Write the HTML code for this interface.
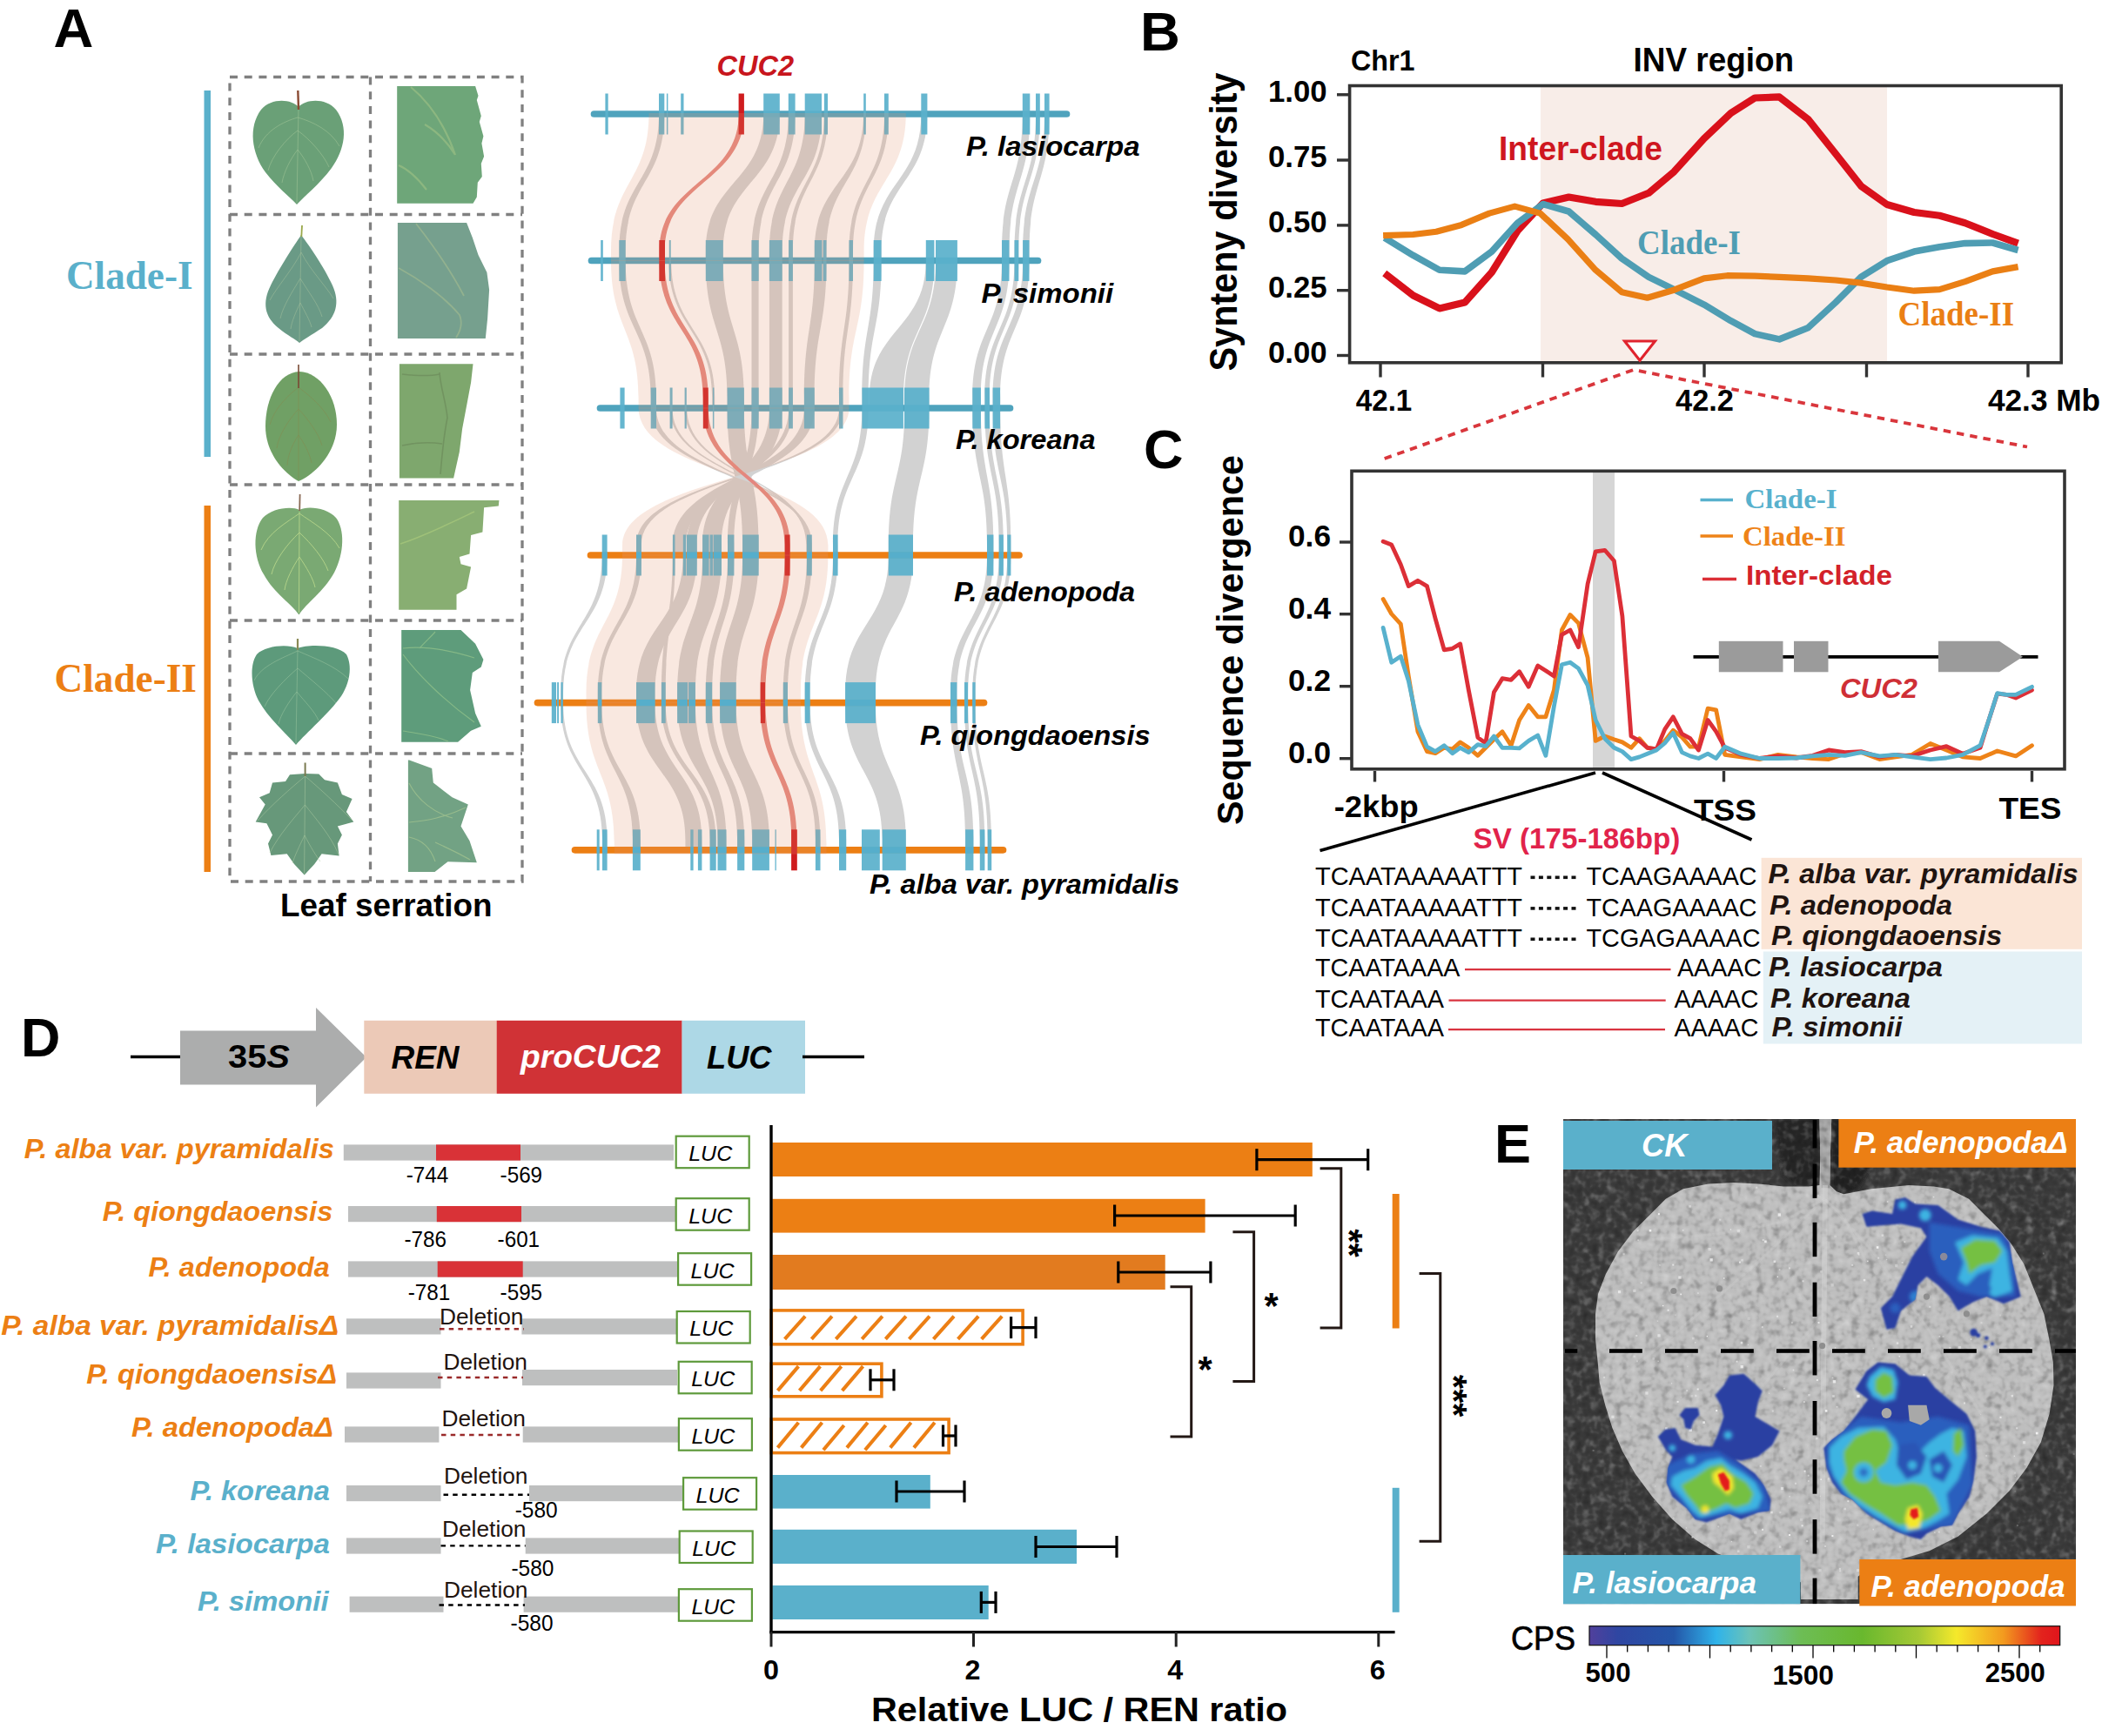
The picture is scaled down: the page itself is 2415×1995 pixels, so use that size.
<!DOCTYPE html>
<html><head><meta charset="utf-8"><title>Figure</title>
<style>
html,body{margin:0;padding:0;background:#fff;}
body{width:2415px;height:1995px;overflow:hidden;font-family:"Liberation Sans",sans-serif;}
svg{display:block;}
</style></head><body>
<svg width="2415" height="1995" viewBox="0 0 2415 1995">
<rect width="2415" height="1995" fill="#fff"/>
<g id="panelA1">
<text x="61.5" y="54.0" font-family="Liberation Sans" font-size="63.44" font-weight="bold" fill="#000" >A</text>
<text x="76.0" y="332.0" font-family="Liberation Serif" font-size="46.5" font-weight="bold" textLength="145.5" lengthAdjust="spacingAndGlyphs" fill="#5ab0cb" >Clade-I</text>
<text x="62.5" y="794.5" font-family="Liberation Serif" font-size="46.5" font-weight="bold" textLength="163.5" lengthAdjust="spacingAndGlyphs" fill="#ec7f14" >Clade-II</text>
<rect x="234.5" y="104.0" width="7.5" height="421.0" fill="#5ab0cb" />
<rect x="234.5" y="581.0" width="7.5" height="421.0" fill="#ec7f14" />
<g stroke-linejoin="round">
<path d="M343,123 C335,114 312,112 300,126 C285,146 289,176 305,198 C318,215 332,225 341,235 C350,225 366,213 381,193 C396,172 401,146 386,126 C374,112 351,114 343,123Z" fill="#6aa077"/>
<path d="M343,124 L341,233 M342,135 C325,140 305,150 297,170 M342,135 C360,140 380,150 390,168 M342,150 C328,160 312,180 308,196 M342,150 C356,160 372,178 378,192 M342,172 C334,182 326,198 324,210 M342,172 C350,182 358,196 360,208" stroke="#a5c79a" stroke-width="0.7" fill="none" opacity="0.75"/>
<line x1="342.3" y1="104.0" x2="343.0" y2="126.0" stroke="#8a4a32" stroke-width="2.4" />
<path d="M346,270 C338,282 322,306 311,328 C301,348 304,364 320,377 C331,386 340,390 344,394 C349,390 358,385 370,377 C386,364 391,348 382,328 C372,306 355,282 346,270Z" fill="#6a9a86"/>
<path d="M346,270 L344,392 M346,290 C336,310 318,330 310,345 M346,290 C356,310 374,328 383,343 M345,320 C336,335 325,352 322,366 M345,320 C354,335 366,350 370,364 M345,348 C340,358 335,370 334,378 M345,348 C350,358 356,368 358,376" stroke="#a3bf9c" stroke-width="0.7" fill="none" opacity="0.75"/>
<line x1="347.0" y1="259.0" x2="346.3" y2="272.0" stroke="#9aa84a" stroke-width="1.8" />
<path d="M344,427 C320,428 305,458 305,490 C305,520 325,543 343,553 C362,545 387,520 387,488 C387,456 368,428 344,427Z" fill="#70a065"/>
<path d="M343,428 L343,551 M343,445 C330,455 315,470 310,488 M343,445 C356,455 372,468 380,485 M343,470 C332,482 320,500 318,515 M343,470 C354,482 366,498 370,512 M343,500 C336,510 330,525 330,535 M343,500 C350,510 356,522 358,532" stroke="#7f8f55" stroke-width="0.7" fill="none"/>
<line x1="343.0" y1="419.0" x2="343.0" y2="446.0" stroke="#7a4a35" stroke-width="1.6" />
<path d="M344,586 C335,581 312,584 302,595 C290,610 291,640 303,660 C315,682 335,694 343.5,706.5 C352,693 372,680 384,658 C396,635 396,608 386,595 C376,583 352,581 344,586Z" fill="#7aa973"/>
<path d="M344,588 L343.5,704 M344,590 C330,600 308,612 300,632 M344,590 C358,600 380,612 390,630 M344,612 C330,625 315,645 312,660 M344,612 C358,625 372,642 377,656 M344,640 C336,652 328,668 327,678 M344,640 C352,652 360,665 362,675" stroke="#b5d58a" stroke-width="0.9" fill="none"/>
<line x1="344.6" y1="568.0" x2="344.2" y2="587.0" stroke="#8a6a55" stroke-width="1.8" />
<path d="M342,745 C330,740 305,742 295,752 C286,765 289,790 297,805 C308,825 328,842 340,856 C352,842 378,820 392,800 C402,785 405,765 398,752 C388,741 355,740 342,745Z" fill="#5d9a7b"/>
<path d="M342,746 L340,854 M342,748 C325,756 300,765 292,782 M342,748 C360,756 385,765 400,780 M342,768 C328,780 310,798 304,812 M342,768 C356,780 376,796 386,808 M341,795 C332,806 322,822 320,832 M341,795 C350,806 362,818 366,828" stroke="#9cc5a0" stroke-width="0.7" fill="none" opacity="0.75"/>
<line x1="342.0" y1="734.0" x2="342.0" y2="747.0" stroke="#8a8a55" stroke-width="2.2" />
<path d="M350.6,889.0 L333.0,890.3 L328.0,898.0 L313.0,899.6 L309.7,911.3 L298.0,916.3 L304.7,924.6 L293.7,944.6 L306.4,946.2 L313.0,959.6 L308.0,969.6 L311.4,982.9 L329.7,981.2 L338.0,992.9 L349.7,1005.5 L361.3,992.9 L369.6,981.2 L389.6,983.5 L387.9,969.6 L392.9,959.6 L387.9,949.6 L406.3,944.6 L397.9,932.9 L404.6,917.9 L392.9,912.9 L387.9,899.6 L373.0,896.3 L366.3,889.6Z" fill="#67987a"/>
<path d="M350.6,890 L349.6,1004 M350.6,892 C335,905 312,925 296,943 M350.6,892 C366,905 388,925 405,943 M350.4,925 C338,940 320,960 310,980 M350.4,925 C362,940 380,960 389,982 M350,960 C344,972 338,985 336,992 M350,960 C356,972 364,985 368,990" stroke="#a8c7a0" stroke-width="0.7" fill="none" opacity="0.75"/>
<line x1="350.6" y1="876.5" x2="350.6" y2="892.0" stroke="#7a7a50" stroke-width="2" />
</g>
<path d="M456.2,98.9 L546.1,98.9 L549.5,109.9 L547.8,114.9 L552.8,133.2 L550.8,139.9 L555.4,156.5 L553.4,164.8 L556.1,179.8 L552.8,188.1 L553.8,203.1 L548.8,209.8 L547.8,226.4 L543.5,233.8 L456.2,233.8Z" fill="#6ea679"/>
<path d="M472,100 C490,115 510,140 523,178 M523,178 C512,160 500,150 488,143 M458,190 C470,195 480,205 490,218" stroke="#a6c487" stroke-width="2.2" fill="none" opacity="0.55"/>
<path d="M456.9,256.1 L536.1,256.1 L542.8,273.1 L549.5,293.0 L559.4,313.0 L562.1,333.0 L560.1,366.3 L557.8,388.9 L456.9,388.9Z" fill="#76a08e"/>
<path d="M478,257 C500,285 520,315 533,340 M458,308 C480,320 510,340 528,362 C532,372 528,382 524,388" stroke="#a9bf8f" stroke-width="1.8" fill="none" opacity="0.55"/>
<path d="M458.9,418.2 L543.5,418.2 L541.1,439.6 L536.1,466.2 L531.1,492.8 L527.8,519.5 L521.1,549.5 L458.9,549.5Z" fill="#7ea76d"/>
<path d="M505,428 C506,445 512,460 514,480 C510,500 508,520 506,545 M462,430 C480,432 495,432 505,430 M462,512 C480,508 495,508 508,510" stroke="#6e8f5c" stroke-width="1.6" fill="none" opacity="0.8"/>
<path d="M458.2,574.9 L573.4,574.9 L572.8,581.6 L556.1,583.3 L554.4,611.6 L541.1,614.9 L539.5,636.6 L527.8,639.9 L529.5,648.2 L541.1,651.5 L536.1,676.5 L524.5,683.2 L524.5,700.8 L458.2,700.8Z" fill="#88ae72"/>
<path d="M460,625 C490,615 520,600 545,588" stroke="#a5c57a" stroke-width="1.6" fill="none" opacity="0.8"/>
<path d="M461.2,724.1 L529.5,724.1 L546.1,739.8 L555.4,758.1 L552.8,766.4 L542.8,773.1 L540.1,793.1 L546.1,819.7 L552.8,834.7 L541.1,839.7 L526.1,852.7 L461.2,852.7Z" fill="#5e9c7b"/>
<path d="M463,745 C490,742 520,748 545,756 M463,752 C480,775 510,805 545,830 M482,745 C488,738 495,732 500,726 M463,840 C480,843 500,845 515,852" stroke="#8fbf8a" stroke-width="1.2" fill="none" opacity="0.8"/>
<path d="M468.9,873.6 L470.2,873.6 L496.2,883.0 L497.8,899.6 L519.5,916.3 L537.8,924.6 L529.5,949.6 L539.5,966.2 L547.8,991.2 L514.5,990.2 L499.5,1001.9 L468.9,1001.9Z" fill="#72a284"/>
<path d="M470,900 C480,920 500,935 520,940 M470,945 C490,943 510,940 535,928 M470,962 C485,965 495,975 500,990 M500,968 C515,975 530,982 540,988" stroke="#9fc08f" stroke-width="1.2" fill="none" opacity="0.8"/>
<rect x="264" y="88.5" width="336" height="924.5" stroke="#808080" stroke-width="3.3" stroke-dasharray="9 7.7" fill="none"/>
<line x1="425.5" y1="88.5" x2="425.5" y2="1013" stroke="#808080" stroke-width="3.3" stroke-dasharray="9 7.7" fill="none"/>
<line x1="264" y1="246.5" x2="600" y2="246.5" stroke="#808080" stroke-width="3.3" stroke-dasharray="9 7.7" fill="none"/>
<line x1="264" y1="407" x2="600" y2="407" stroke="#808080" stroke-width="3.3" stroke-dasharray="9 7.7" fill="none"/>
<line x1="264" y1="557" x2="600" y2="557" stroke="#808080" stroke-width="3.3" stroke-dasharray="9 7.7" fill="none"/>
<line x1="264" y1="713" x2="600" y2="713" stroke="#808080" stroke-width="3.3" stroke-dasharray="9 7.7" fill="none"/>
<line x1="264" y1="866" x2="600" y2="866" stroke="#808080" stroke-width="3.3" stroke-dasharray="9 7.7" fill="none"/>
<text x="322.0" y="1052.5" font-family="Liberation Sans" font-size="36.4" font-weight="bold" textLength="243.5" lengthAdjust="spacingAndGlyphs" fill="#000" >Leaf serration</text>
</g>

<g id="panelA2">
<g>
<path d="M757.0,131.0 L757.0,131.0 C757.0,209.2 711.3,209.2 711.3,287.5 L711.3,299.5 L718.7,299.5 L718.7,287.5 C718.7,209.2 763.3,209.2 763.3,131.0 L763.3,131.0Z" fill="#d2d2d2" />
<path d="M877.2,131.0 L877.2,131.0 C877.2,209.2 810.8,209.2 810.8,287.5 L810.8,299.5 L830.8,299.5 L830.8,287.5 C830.8,209.2 895.7,209.2 895.7,131.0 L895.7,131.0Z" fill="#d2d2d2" />
<path d="M905.8,131.0 L905.8,131.0 C905.8,209.2 863.5,209.2 863.5,287.5 L863.5,299.5 L871.6,299.5 L871.6,287.5 C871.6,209.2 913.5,209.2 913.5,131.0 L913.5,131.0Z" fill="#d2d2d2" />
<path d="M924.7,131.0 L924.7,131.0 C924.7,209.2 883.9,209.2 883.9,287.5 L883.9,299.5 L898.7,299.5 L898.7,287.5 C898.7,209.2 944.0,209.2 944.0,131.0 L944.0,131.0Z" fill="#d2d2d2" />
<path d="M946.9,131.0 L946.9,131.0 C946.9,209.2 906.1,209.2 906.1,287.5 L906.1,299.5 L910.9,299.5 L910.9,287.5 C910.9,209.2 951.0,209.2 951.0,131.0 L951.0,131.0Z" fill="#d2d2d2" />
<path d="M992.0,131.0 L992.0,131.0 C992.0,209.2 935.8,209.2 935.8,287.5 L935.8,299.5 L949.5,299.5 L949.5,287.5 C949.5,209.2 995.0,209.2 995.0,131.0 L995.0,131.0Z" fill="#d2d2d2" />
<path d="M1016.0,131.0 L1016.0,131.0 C1016.0,209.2 975.5,209.2 975.5,287.5 L975.5,299.5 L980.0,299.5 L980.0,287.5 C980.0,209.2 1020.8,209.2 1020.8,131.0 L1020.8,131.0Z" fill="#d2d2d2" />
<path d="M1058.3,131.0 L1058.3,131.0 C1058.3,209.2 1003.7,209.2 1003.7,287.5 L1003.7,299.5 L1012.6,299.5 L1012.6,287.5 C1012.6,209.2 1065.3,209.2 1065.3,131.0 L1065.3,131.0Z" fill="#d2d2d2" />
<path d="M1174.8,131.0 L1174.8,131.0 C1174.8,209.2 1151.0,209.2 1151.0,287.5 L1151.0,299.5 L1159.6,299.5 L1159.6,287.5 C1159.6,209.2 1183.3,209.2 1183.3,131.0 L1183.3,131.0Z" fill="#d2d2d2" />
<path d="M1190.0,131.0 L1190.0,131.0 C1190.0,209.2 1165.5,209.2 1165.5,287.5 L1165.5,299.5 L1170.3,299.5 L1170.3,287.5 C1170.3,209.2 1194.8,209.2 1194.8,131.0 L1194.8,131.0Z" fill="#d2d2d2" />
<path d="M1200.0,131.0 L1200.0,131.0 C1200.0,209.2 1175.1,209.2 1175.1,287.5 L1175.1,299.5 L1182.6,299.5 L1182.6,287.5 C1182.6,209.2 1205.6,209.2 1205.6,131.0 L1205.6,131.0Z" fill="#d2d2d2" />
<path d="M848.7,131.0 L848.7,131.0 C848.7,209.2 757.6,209.2 757.6,287.5 L757.6,299.5 L763.7,299.5 L763.7,287.5 C763.7,209.2 854.8,209.2 854.8,131.0 L854.8,131.0Z" fill="#e4867f" />
<path d="M711.3,299.5 L711.3,299.5 C711.3,378.2 747.7,378.2 747.7,457.0 L747.7,469.0 L754.0,469.0 L754.0,457.0 C754.0,378.2 718.7,378.2 718.7,299.5 L718.7,299.5Z" fill="#d2d2d2" />
<path d="M768.3,299.5 L768.3,299.5 C768.3,378.2 818.2,378.2 818.2,457.0 L818.2,469.0 L821.2,469.0 L821.2,457.0 C821.2,378.2 771.2,378.2 771.2,299.5 L771.2,299.5Z" fill="#d2d2d2" />
<path d="M810.8,299.5 L810.8,299.5 C810.8,378.2 835.6,378.2 835.6,457.0 L835.6,469.0 L854.9,469.0 L854.9,457.0 C854.9,378.2 830.8,378.2 830.8,299.5 L830.8,299.5Z" fill="#d2d2d2" />
<path d="M863.5,299.5 L863.5,299.5 C863.5,378.2 863.5,378.2 863.5,457.0 L863.5,469.0 L871.6,469.0 L871.6,457.0 C871.6,378.2 871.6,378.2 871.6,299.5 L871.6,299.5Z" fill="#d2d2d2" />
<path d="M883.9,299.5 L883.9,299.5 C883.9,378.2 883.9,378.2 883.9,457.0 L883.9,469.0 L898.7,469.0 L898.7,457.0 C898.7,378.2 898.7,378.2 898.7,299.5 L898.7,299.5Z" fill="#d2d2d2" />
<path d="M906.1,299.5 L906.1,299.5 C906.1,378.2 906.1,378.2 906.1,457.0 L906.1,469.0 L910.9,469.0 L910.9,457.0 C910.9,378.2 910.9,378.2 910.9,299.5 L910.9,299.5Z" fill="#d2d2d2" />
<path d="M935.8,299.5 L935.8,299.5 C935.8,378.2 923.9,378.2 923.9,457.0 L923.9,469.0 L935.8,469.0 L935.8,457.0 C935.8,378.2 949.5,378.2 949.5,299.5 L949.5,299.5Z" fill="#d2d2d2" />
<path d="M975.5,299.5 L975.5,299.5 C975.5,378.2 964.0,378.2 964.0,457.0 L964.0,469.0 L968.5,469.0 L968.5,457.0 C968.5,378.2 980.0,378.2 980.0,299.5 L980.0,299.5Z" fill="#d2d2d2" />
<path d="M1003.7,299.5 L1003.7,299.5 C1003.7,378.2 990.4,378.2 990.4,457.0 L990.4,469.0 L997.8,469.0 L997.8,457.0 C997.8,378.2 1012.6,378.2 1012.6,299.5 L1012.6,299.5Z" fill="#d2d2d2" />
<path d="M1063.8,299.5 L1063.8,299.5 C1063.8,378.2 998.9,378.2 998.9,457.0 L998.9,469.0 L1038.2,469.0 L1038.2,457.0 C1038.2,378.2 1073.5,378.2 1073.5,299.5 L1073.5,299.5Z" fill="#d2d2d2" />
<path d="M1075.0,299.5 L1075.0,299.5 C1075.0,378.2 1039.3,378.2 1039.3,457.0 L1039.3,469.0 L1067.5,469.0 L1067.5,457.0 C1067.5,378.2 1099.8,378.2 1099.8,299.5 L1099.8,299.5Z" fill="#d2d2d2" />
<path d="M1151.0,299.5 L1151.0,299.5 C1151.0,378.2 1117.3,378.2 1117.3,457.0 L1117.3,469.0 L1126.9,469.0 L1126.9,457.0 C1126.9,378.2 1159.6,378.2 1159.6,299.5 L1159.6,299.5Z" fill="#d2d2d2" />
<path d="M1165.5,299.5 L1165.5,299.5 C1165.5,378.2 1131.4,378.2 1131.4,457.0 L1131.4,469.0 L1136.9,469.0 L1136.9,457.0 C1136.9,378.2 1170.3,378.2 1170.3,299.5 L1170.3,299.5Z" fill="#d2d2d2" />
<path d="M1175.1,299.5 L1175.1,299.5 C1175.1,378.2 1140.6,378.2 1140.6,457.0 L1140.6,469.0 L1149.2,469.0 L1149.2,457.0 C1149.2,378.2 1182.6,378.2 1182.6,299.5 L1182.6,299.5Z" fill="#d2d2d2" />
<path d="M757.6,299.5 L757.6,299.5 C757.6,378.2 807.7,378.2 807.7,457.0 L807.7,469.0 L813.8,469.0 L813.8,457.0 C813.8,378.2 763.7,378.2 763.7,299.5 L763.7,299.5Z" fill="#e4867f" />
<path d="M747.7,469.0 L747.7,469.0 C747.7,547.5 930.1,547.5 930.1,626.0 L930.1,638.0 L933.0,638.0 L933.0,626.0 C933.0,547.5 754.0,547.5 754.0,469.0 L754.0,469.0Z" fill="#d2d2d2" />
<path d="M769.6,469.0 L769.6,469.0 C769.6,547.5 928.0,547.5 928.0,626.0 L928.0,638.0 L931.0,638.0 L931.0,626.0 C931.0,547.5 772.5,547.5 772.5,469.0 L772.5,469.0Z" fill="#d2d2d2" />
<path d="M786.3,469.0 L786.3,469.0 C786.3,547.5 926.3,547.5 926.3,626.0 L926.3,638.0 L929.3,638.0 L929.3,626.0 C929.3,547.5 789.2,547.5 789.2,469.0 L789.2,469.0Z" fill="#d2d2d2" />
<path d="M835.6,469.0 L835.6,469.0 C835.6,547.5 853.1,547.5 853.1,626.0 L853.1,638.0 L871.6,638.0 L871.6,626.0 C871.6,547.5 854.9,547.5 854.9,469.0 L854.9,469.0Z" fill="#d2d2d2" />
<path d="M863.5,469.0 L863.5,469.0 C863.5,547.5 836.0,547.5 836.0,626.0 L836.0,638.0 L843.4,638.0 L843.4,626.0 C843.4,547.5 871.6,547.5 871.6,469.0 L871.6,469.0Z" fill="#d2d2d2" />
<path d="M883.9,469.0 L883.9,469.0 C883.9,547.5 807.1,547.5 807.1,626.0 L807.1,638.0 L828.9,638.0 L828.9,626.0 C828.9,547.5 898.7,547.5 898.7,469.0 L898.7,469.0Z" fill="#d2d2d2" />
<path d="M906.1,469.0 L906.1,469.0 C906.1,547.5 788.9,547.5 788.9,626.0 L788.9,638.0 L800.7,638.0 L800.7,626.0 C800.7,547.5 910.9,547.5 910.9,469.0 L910.9,469.0Z" fill="#d2d2d2" />
<path d="M923.9,469.0 L923.9,469.0 C923.9,547.5 772.9,547.5 772.9,626.0 L772.9,638.0 L788.1,638.0 L788.1,626.0 C788.1,547.5 935.8,547.5 935.8,469.0 L935.8,469.0Z" fill="#d2d2d2" />
<path d="M964.0,469.0 L964.0,469.0 C964.0,547.5 731.0,547.5 731.0,626.0 L731.0,638.0 L736.9,638.0 L736.9,626.0 C736.9,547.5 968.5,547.5 968.5,469.0 L968.5,469.0Z" fill="#d2d2d2" />
<path d="M990.4,469.0 L990.4,469.0 C990.4,547.5 957.0,547.5 957.0,626.0 L957.0,638.0 L962.5,638.0 L962.5,626.0 C962.5,547.5 997.8,547.5 997.8,469.0 L997.8,469.0Z" fill="#d2d2d2" />
<path d="M1039.3,469.0 L1039.3,469.0 C1039.3,547.5 1020.8,547.5 1020.8,626.0 L1020.8,638.0 L1049.0,638.0 L1049.0,626.0 C1049.0,547.5 1067.5,547.5 1067.5,469.0 L1067.5,469.0Z" fill="#d2d2d2" />
<path d="M1117.3,469.0 L1117.3,469.0 C1117.3,547.5 1134.0,547.5 1134.0,626.0 L1134.0,638.0 L1141.4,638.0 L1141.4,626.0 C1141.4,547.5 1126.9,547.5 1126.9,469.0 L1126.9,469.0Z" fill="#d2d2d2" />
<path d="M1131.4,469.0 L1131.4,469.0 C1131.4,547.5 1147.7,547.5 1147.7,626.0 L1147.7,638.0 L1152.9,638.0 L1152.9,626.0 C1152.9,547.5 1136.9,547.5 1136.9,469.0 L1136.9,469.0Z" fill="#d2d2d2" />
<path d="M1140.6,469.0 L1140.6,469.0 C1140.6,547.5 1157.3,547.5 1157.3,626.0 L1157.3,638.0 L1161.4,638.0 L1161.4,626.0 C1161.4,547.5 1149.2,547.5 1149.2,469.0 L1149.2,469.0Z" fill="#d2d2d2" />
<path d="M807.7,469.0 L807.7,469.0 C807.7,547.5 901.6,547.5 901.6,626.0 L901.6,638.0 L907.7,638.0 L907.7,626.0 C907.7,547.5 813.8,547.5 813.8,469.0 L813.8,469.0Z" fill="#e4867f" />
<path d="M691.7,638.0 L691.7,638.0 C691.7,716.8 644.2,716.8 644.2,795.6 L644.2,807.6 L647.1,807.6 L647.1,795.6 C647.1,716.8 697.6,716.8 697.6,638.0 L697.6,638.0Z" fill="#d2d2d2" />
<path d="M731.0,638.0 L731.0,638.0 C731.0,716.8 686.8,716.8 686.8,795.6 L686.8,807.6 L691.3,807.6 L691.3,795.6 C691.3,716.8 736.9,716.8 736.9,638.0 L736.9,638.0Z" fill="#d2d2d2" />
<path d="M772.7,638.0 L772.7,638.0 C772.7,716.8 759.9,716.8 759.9,795.6 L759.9,807.6 L764.7,807.6 L764.7,795.6 C764.7,716.8 775.7,716.8 775.7,638.0 L775.7,638.0Z" fill="#d2d2d2" />
<path d="M784.8,638.0 L784.8,638.0 C784.8,716.8 731.0,716.8 731.0,795.6 L731.0,807.6 L752.5,807.6 L752.5,795.6 C752.5,716.8 800.7,716.8 800.7,638.0 L800.7,638.0Z" fill="#d2d2d2" />
<path d="M807.1,638.0 L807.1,638.0 C807.1,716.8 778.1,716.8 778.1,795.6 L778.1,807.6 L798.9,807.6 L798.9,795.6 C798.9,716.8 828.9,716.8 828.9,638.0 L828.9,638.0Z" fill="#d2d2d2" />
<path d="M836.0,638.0 L836.0,638.0 C836.0,716.8 810.8,716.8 810.8,795.6 L810.8,807.6 L818.2,807.6 L818.2,795.6 C818.2,716.8 843.4,716.8 843.4,638.0 L843.4,638.0Z" fill="#d2d2d2" />
<path d="M853.1,638.0 L853.1,638.0 C853.1,716.8 827.1,716.8 827.1,795.6 L827.1,807.6 L845.6,807.6 L845.6,795.6 C845.6,716.8 871.6,716.8 871.6,638.0 L871.6,638.0Z" fill="#d2d2d2" />
<path d="M926.9,638.0 L926.9,638.0 C926.9,716.8 899.8,716.8 899.8,795.6 L899.8,807.6 L905.0,807.6 L905.0,795.6 C905.0,716.8 932.8,716.8 932.8,638.0 L932.8,638.0Z" fill="#d2d2d2" />
<path d="M957.0,638.0 L957.0,638.0 C957.0,716.8 924.7,716.8 924.7,795.6 L924.7,807.6 L930.6,807.6 L930.6,795.6 C930.6,716.8 962.5,716.8 962.5,638.0 L962.5,638.0Z" fill="#d2d2d2" />
<path d="M1020.8,638.0 L1020.8,638.0 C1020.8,716.8 971.1,716.8 971.1,795.6 L971.1,807.6 L1005.9,807.6 L1005.9,795.6 C1005.9,716.8 1049.0,716.8 1049.0,638.0 L1049.0,638.0Z" fill="#d2d2d2" />
<path d="M1134.0,638.0 L1134.0,638.0 C1134.0,716.8 1092.0,716.8 1092.0,795.6 L1092.0,807.6 L1099.4,807.6 L1099.4,795.6 C1099.4,716.8 1141.4,716.8 1141.4,638.0 L1141.4,638.0Z" fill="#d2d2d2" />
<path d="M1147.7,638.0 L1147.7,638.0 C1147.7,716.8 1108.0,716.8 1108.0,795.6 L1108.0,807.6 L1112.1,807.6 L1112.1,795.6 C1112.1,716.8 1152.9,716.8 1152.9,638.0 L1152.9,638.0Z" fill="#d2d2d2" />
<path d="M1157.3,638.0 L1157.3,638.0 C1157.3,716.8 1117.3,716.8 1117.3,795.6 L1117.3,807.6 L1120.6,807.6 L1120.6,795.6 C1120.6,716.8 1161.4,716.8 1161.4,638.0 L1161.4,638.0Z" fill="#d2d2d2" />
<path d="M901.6,638.0 L901.6,638.0 C901.6,716.8 873.4,716.8 873.4,795.6 L873.4,807.6 L879.5,807.6 L879.5,795.6 C879.5,716.8 907.7,716.8 907.7,638.0 L907.7,638.0Z" fill="#e4867f" />
<path d="M644.2,807.6 L644.2,807.6 C644.2,886.2 692.0,886.2 692.0,964.8 L692.0,976.8 L697.6,976.8 L697.6,964.8 C697.6,886.2 647.1,886.2 647.1,807.6 L647.1,807.6Z" fill="#d2d2d2" />
<path d="M686.8,807.6 L686.8,807.6 C686.8,886.2 726.9,886.2 726.9,964.8 L726.9,976.8 L735.8,976.8 L735.8,964.8 C735.8,886.2 691.3,886.2 691.3,807.6 L691.3,807.6Z" fill="#d2d2d2" />
<path d="M731.0,807.6 L731.0,807.6 C731.0,886.2 787.4,886.2 787.4,964.8 L787.4,976.8 L806.3,976.8 L806.3,964.8 C806.3,886.2 752.5,886.2 752.5,807.6 L752.5,807.6Z" fill="#d2d2d2" />
<path d="M759.9,807.6 L759.9,807.6 C759.9,886.2 815.6,886.2 815.6,964.8 L815.6,976.8 L822.6,976.8 L822.6,964.8 C822.6,886.2 764.7,886.2 764.7,807.6 L764.7,807.6Z" fill="#d2d2d2" />
<path d="M778.1,807.6 L778.1,807.6 C778.1,886.2 824.5,886.2 824.5,964.8 L824.5,976.8 L834.5,976.8 L834.5,964.8 C834.5,886.2 798.9,886.2 798.9,807.6 L798.9,807.6Z" fill="#d2d2d2" />
<path d="M810.8,807.6 L810.8,807.6 C810.8,886.2 847.1,886.2 847.1,964.8 L847.1,976.8 L855.3,976.8 L855.3,964.8 C855.3,886.2 818.2,886.2 818.2,807.6 L818.2,807.6Z" fill="#d2d2d2" />
<path d="M827.1,807.6 L827.1,807.6 C827.1,886.2 864.2,886.2 864.2,964.8 L864.2,976.8 L883.9,976.8 L883.9,964.8 C883.9,886.2 845.6,886.2 845.6,807.6 L845.6,807.6Z" fill="#d2d2d2" />
<path d="M899.8,807.6 L899.8,807.6 C899.8,886.2 936.9,886.2 936.9,964.8 L936.9,976.8 L942.5,976.8 L942.5,964.8 C942.5,886.2 905.0,886.2 905.0,807.6 L905.0,807.6Z" fill="#d2d2d2" />
<path d="M924.7,807.6 L924.7,807.6 C924.7,886.2 964.0,886.2 964.0,964.8 L964.0,976.8 L972.2,976.8 L972.2,964.8 C972.2,886.2 930.6,886.2 930.6,807.6 L930.6,807.6Z" fill="#d2d2d2" />
<path d="M971.1,807.6 L971.1,807.6 C971.1,886.2 1013.7,886.2 1013.7,964.8 L1013.7,976.8 L1040.8,976.8 L1040.8,964.8 C1040.8,886.2 1005.9,886.2 1005.9,807.6 L1005.9,807.6Z" fill="#d2d2d2" />
<path d="M1092.0,807.6 L1092.0,807.6 C1092.0,886.2 1109.1,886.2 1109.1,964.8 L1109.1,976.8 L1118.4,976.8 L1118.4,964.8 C1118.4,886.2 1099.4,886.2 1099.4,807.6 L1099.4,807.6Z" fill="#d2d2d2" />
<path d="M1108.0,807.6 L1108.0,807.6 C1108.0,886.2 1125.8,886.2 1125.8,964.8 L1125.8,976.8 L1131.4,976.8 L1131.4,964.8 C1131.4,886.2 1112.1,886.2 1112.1,807.6 L1112.1,807.6Z" fill="#d2d2d2" />
<path d="M1117.3,807.6 L1117.3,807.6 C1117.3,886.2 1134.7,886.2 1134.7,964.8 L1134.7,976.8 L1139.1,976.8 L1139.1,964.8 C1139.1,886.2 1120.6,886.2 1120.6,807.6 L1120.6,807.6Z" fill="#d2d2d2" />
<path d="M873.4,807.6 L873.4,807.6 C873.4,886.2 909.4,886.2 909.4,964.8 L909.4,976.8 L915.5,976.8 L915.5,964.8 C915.5,886.2 879.5,886.2 879.5,807.6 L879.5,807.6Z" fill="#e4867f" />
</g>
<line x1="682.5" y1="131.0" x2="1225.5" y2="131.0" stroke="#4fa3bd" stroke-width="7.7" stroke-linecap="round"/>
<rect x="695.4" y="107.5" width="3.3" height="47.0" fill="#5ab0cb" fill-opacity="0.93"/>
<rect x="757.0" y="107.5" width="6.3" height="47.0" fill="#5ab0cb" fill-opacity="0.93"/>
<rect x="765.9" y="107.5" width="1.5" height="47.0" fill="#5ab0cb" fill-opacity="0.93"/>
<rect x="782.2" y="107.5" width="3.3" height="47.0" fill="#5ab0cb" fill-opacity="0.93"/>
<rect x="877.2" y="107.5" width="18.6" height="47.0" fill="#5ab0cb" fill-opacity="0.93"/>
<rect x="905.8" y="107.5" width="7.8" height="47.0" fill="#5ab0cb" fill-opacity="0.93"/>
<rect x="924.7" y="107.5" width="19.3" height="47.0" fill="#5ab0cb" fill-opacity="0.93"/>
<rect x="946.9" y="107.5" width="4.1" height="47.0" fill="#5ab0cb" fill-opacity="0.93"/>
<rect x="992.2" y="107.5" width="2.6" height="47.0" fill="#5ab0cb" fill-opacity="0.93"/>
<rect x="1016.0" y="107.5" width="4.8" height="47.0" fill="#5ab0cb" fill-opacity="0.93"/>
<rect x="1058.3" y="107.5" width="7.1" height="47.0" fill="#5ab0cb" fill-opacity="0.93"/>
<rect x="1174.8" y="107.5" width="8.5" height="47.0" fill="#5ab0cb" fill-opacity="0.93"/>
<rect x="1190.0" y="107.5" width="4.8" height="47.0" fill="#5ab0cb" fill-opacity="0.93"/>
<rect x="1200.0" y="107.5" width="5.6" height="47.0" fill="#5ab0cb" fill-opacity="0.93"/>
<rect x="848.6" y="107.5" width="6.3" height="47.0" fill="#cf1c1e" />
<line x1="679.5" y1="299.5" x2="1192.5" y2="299.5" stroke="#4fa3bd" stroke-width="7.7" stroke-linecap="round"/>
<rect x="690.2" y="276.0" width="2.6" height="47.0" fill="#5ab0cb" fill-opacity="0.93"/>
<rect x="711.3" y="276.0" width="7.4" height="47.0" fill="#5ab0cb" fill-opacity="0.93"/>
<rect x="768.8" y="276.0" width="1.9" height="47.0" fill="#5ab0cb" fill-opacity="0.93"/>
<rect x="810.8" y="276.0" width="20.0" height="47.0" fill="#5ab0cb" fill-opacity="0.93"/>
<rect x="863.5" y="276.0" width="8.2" height="47.0" fill="#5ab0cb" fill-opacity="0.93"/>
<rect x="883.9" y="276.0" width="14.8" height="47.0" fill="#5ab0cb" fill-opacity="0.93"/>
<rect x="906.1" y="276.0" width="4.8" height="47.0" fill="#5ab0cb" fill-opacity="0.93"/>
<rect x="935.8" y="276.0" width="8.5" height="47.0" fill="#5ab0cb" fill-opacity="0.93"/>
<rect x="945.8" y="276.0" width="3.7" height="47.0" fill="#5ab0cb" fill-opacity="0.93"/>
<rect x="975.5" y="276.0" width="4.5" height="47.0" fill="#5ab0cb" fill-opacity="0.93"/>
<rect x="1003.7" y="276.0" width="8.9" height="47.0" fill="#5ab0cb" fill-opacity="0.93"/>
<rect x="1063.8" y="276.0" width="9.6" height="47.0" fill="#5ab0cb" fill-opacity="0.93"/>
<rect x="1075.0" y="276.0" width="24.9" height="47.0" fill="#5ab0cb" fill-opacity="0.93"/>
<rect x="1151.0" y="276.0" width="8.5" height="47.0" fill="#5ab0cb" fill-opacity="0.93"/>
<rect x="1165.5" y="276.0" width="4.8" height="47.0" fill="#5ab0cb" fill-opacity="0.93"/>
<rect x="1175.1" y="276.0" width="7.4" height="47.0" fill="#5ab0cb" fill-opacity="0.93"/>
<rect x="757.3" y="276.0" width="6.7" height="47.0" fill="#cf1c1e" />
<line x1="689.5" y1="469.0" x2="1160.5" y2="469.0" stroke="#4fa3bd" stroke-width="7.7" stroke-linecap="round"/>
<rect x="712.4" y="445.5" width="5.2" height="47.0" fill="#5ab0cb" fill-opacity="0.93"/>
<rect x="747.7" y="445.5" width="6.3" height="47.0" fill="#5ab0cb" fill-opacity="0.93"/>
<rect x="769.6" y="445.5" width="3.0" height="47.0" fill="#5ab0cb" fill-opacity="0.93"/>
<rect x="786.6" y="445.5" width="2.2" height="47.0" fill="#5ab0cb" fill-opacity="0.93"/>
<rect x="818.9" y="445.5" width="1.5" height="47.0" fill="#5ab0cb" fill-opacity="0.93"/>
<rect x="835.6" y="445.5" width="19.3" height="47.0" fill="#5ab0cb" fill-opacity="0.93"/>
<rect x="863.5" y="445.5" width="8.2" height="47.0" fill="#5ab0cb" fill-opacity="0.93"/>
<rect x="883.9" y="445.5" width="14.8" height="47.0" fill="#5ab0cb" fill-opacity="0.93"/>
<rect x="906.1" y="445.5" width="4.8" height="47.0" fill="#5ab0cb" fill-opacity="0.93"/>
<rect x="923.9" y="445.5" width="11.9" height="47.0" fill="#5ab0cb" fill-opacity="0.93"/>
<rect x="964.0" y="445.5" width="4.5" height="47.0" fill="#5ab0cb" fill-opacity="0.93"/>
<rect x="990.4" y="445.5" width="47.5" height="47.0" fill="#5ab0cb" fill-opacity="0.93"/>
<rect x="1039.0" y="445.5" width="28.6" height="47.0" fill="#5ab0cb" fill-opacity="0.93"/>
<rect x="1117.3" y="445.5" width="9.6" height="47.0" fill="#5ab0cb" fill-opacity="0.93"/>
<rect x="1131.4" y="445.5" width="5.6" height="47.0" fill="#5ab0cb" fill-opacity="0.93"/>
<rect x="1140.6" y="445.5" width="8.5" height="47.0" fill="#5ab0cb" fill-opacity="0.93"/>
<rect x="807.8" y="445.5" width="5.9" height="47.0" fill="#cf1c1e" />
<line x1="678.5" y1="638.0" x2="1171.0" y2="638.0" stroke="#ec7f14" stroke-width="7.7" stroke-linecap="round"/>
<rect x="691.7" y="614.5" width="5.9" height="47.0" fill="#5ab0cb" fill-opacity="0.93"/>
<rect x="731.0" y="614.5" width="5.9" height="47.0" fill="#5ab0cb" fill-opacity="0.93"/>
<rect x="772.9" y="614.5" width="2.6" height="47.0" fill="#5ab0cb" fill-opacity="0.93"/>
<rect x="784.8" y="614.5" width="3.3" height="47.0" fill="#5ab0cb" fill-opacity="0.93"/>
<rect x="788.9" y="614.5" width="11.9" height="47.0" fill="#5ab0cb" fill-opacity="0.93"/>
<rect x="807.1" y="614.5" width="7.4" height="47.0" fill="#5ab0cb" fill-opacity="0.93"/>
<rect x="815.6" y="614.5" width="3.3" height="47.0" fill="#5ab0cb" fill-opacity="0.93"/>
<rect x="819.7" y="614.5" width="9.3" height="47.0" fill="#5ab0cb" fill-opacity="0.93"/>
<rect x="836.0" y="614.5" width="7.4" height="47.0" fill="#5ab0cb" fill-opacity="0.93"/>
<rect x="853.1" y="614.5" width="18.6" height="47.0" fill="#5ab0cb" fill-opacity="0.93"/>
<rect x="926.9" y="614.5" width="5.9" height="47.0" fill="#5ab0cb" fill-opacity="0.93"/>
<rect x="957.0" y="614.5" width="5.6" height="47.0" fill="#5ab0cb" fill-opacity="0.93"/>
<rect x="1020.8" y="614.5" width="28.2" height="47.0" fill="#5ab0cb" fill-opacity="0.93"/>
<rect x="1134.0" y="614.5" width="7.4" height="47.0" fill="#5ab0cb" fill-opacity="0.93"/>
<rect x="1147.7" y="614.5" width="5.2" height="47.0" fill="#5ab0cb" fill-opacity="0.93"/>
<rect x="1157.3" y="614.5" width="4.1" height="47.0" fill="#5ab0cb" fill-opacity="0.93"/>
<rect x="901.7" y="614.5" width="5.9" height="47.0" fill="#cf1c1e" />
<line x1="617.5" y1="807.6" x2="1130.5" y2="807.6" stroke="#ec7f14" stroke-width="7.7" stroke-linecap="round"/>
<rect x="633.8" y="784.1" width="5.2" height="47.0" fill="#5ab0cb" fill-opacity="0.93"/>
<rect x="640.1" y="784.1" width="1.9" height="47.0" fill="#5ab0cb" fill-opacity="0.93"/>
<rect x="644.5" y="784.1" width="2.2" height="47.0" fill="#5ab0cb" fill-opacity="0.93"/>
<rect x="686.8" y="784.1" width="4.5" height="47.0" fill="#5ab0cb" fill-opacity="0.93"/>
<rect x="731.0" y="784.1" width="21.5" height="47.0" fill="#5ab0cb" fill-opacity="0.93"/>
<rect x="759.9" y="784.1" width="4.8" height="47.0" fill="#5ab0cb" fill-opacity="0.93"/>
<rect x="778.1" y="784.1" width="11.9" height="47.0" fill="#5ab0cb" fill-opacity="0.93"/>
<rect x="791.1" y="784.1" width="7.8" height="47.0" fill="#5ab0cb" fill-opacity="0.93"/>
<rect x="810.8" y="784.1" width="7.4" height="47.0" fill="#5ab0cb" fill-opacity="0.93"/>
<rect x="827.1" y="784.1" width="18.6" height="47.0" fill="#5ab0cb" fill-opacity="0.93"/>
<rect x="899.8" y="784.1" width="5.2" height="47.0" fill="#5ab0cb" fill-opacity="0.93"/>
<rect x="924.7" y="784.1" width="5.9" height="47.0" fill="#5ab0cb" fill-opacity="0.93"/>
<rect x="971.1" y="784.1" width="34.9" height="47.0" fill="#5ab0cb" fill-opacity="0.93"/>
<rect x="1092.0" y="784.1" width="7.4" height="47.0" fill="#5ab0cb" fill-opacity="0.93"/>
<rect x="1108.0" y="784.1" width="4.1" height="47.0" fill="#5ab0cb" fill-opacity="0.93"/>
<rect x="1117.3" y="784.1" width="3.3" height="47.0" fill="#5ab0cb" fill-opacity="0.93"/>
<rect x="873.8" y="784.1" width="5.2" height="47.0" fill="#cf1c1e" />
<line x1="660.5" y1="976.8" x2="1152.5" y2="976.8" stroke="#ec7f14" stroke-width="7.7" stroke-linecap="round"/>
<rect x="685.7" y="953.3" width="3.0" height="47.0" fill="#5ab0cb" fill-opacity="0.93"/>
<rect x="692.0" y="953.3" width="5.6" height="47.0" fill="#5ab0cb" fill-opacity="0.93"/>
<rect x="726.9" y="953.3" width="8.9" height="47.0" fill="#5ab0cb" fill-opacity="0.93"/>
<rect x="793.3" y="953.3" width="3.3" height="47.0" fill="#5ab0cb" fill-opacity="0.93"/>
<rect x="801.9" y="953.3" width="4.5" height="47.0" fill="#5ab0cb" fill-opacity="0.93"/>
<rect x="815.6" y="953.3" width="7.1" height="47.0" fill="#5ab0cb" fill-opacity="0.93"/>
<rect x="824.5" y="953.3" width="10.0" height="47.0" fill="#5ab0cb" fill-opacity="0.93"/>
<rect x="847.1" y="953.3" width="8.2" height="47.0" fill="#5ab0cb" fill-opacity="0.93"/>
<rect x="864.2" y="953.3" width="19.7" height="47.0" fill="#5ab0cb" fill-opacity="0.93"/>
<rect x="890.5" y="953.3" width="1.3" height="47.0" fill="#5ab0cb" fill-opacity="0.93"/>
<rect x="936.9" y="953.3" width="5.6" height="47.0" fill="#5ab0cb" fill-opacity="0.93"/>
<rect x="964.0" y="953.3" width="8.2" height="47.0" fill="#5ab0cb" fill-opacity="0.93"/>
<rect x="990.0" y="953.3" width="20.8" height="47.0" fill="#5ab0cb" fill-opacity="0.93"/>
<rect x="1013.7" y="953.3" width="27.1" height="47.0" fill="#5ab0cb" fill-opacity="0.93"/>
<rect x="1109.1" y="953.3" width="9.3" height="47.0" fill="#5ab0cb" fill-opacity="0.93"/>
<rect x="1125.8" y="953.3" width="5.6" height="47.0" fill="#5ab0cb" fill-opacity="0.93"/>
<rect x="1134.7" y="953.3" width="4.5" height="47.0" fill="#5ab0cb" fill-opacity="0.93"/>
<rect x="909.1" y="953.3" width="6.7" height="47.0" fill="#cf1c1e" />
<path d="M745.5,130.0 L745.5,130.0 C745.5,209.0 702.0,209.0 702.0,288.0 L702.0,300.0 L992.6,300.0 L992.6,288.0 C992.6,209.0 1040.8,209.0 1040.8,130.0 L1040.8,130.0Z" fill="#e4966e" fill-opacity="0.215"/>
<path d="M702.0,299.0 L702.0,299.0 C702.0,378.2 733.6,378.2 733.6,457.5 L733.6,469.5 L975.5,469.5 L975.5,457.5 C975.5,378.2 992.6,378.2 992.6,299.0 L992.6,299.0Z" fill="#e4966e" fill-opacity="0.215"/>
<path d="M733.6,468.5 L733.6,468.5 C733.6,547.5 951.4,547.5 951.4,626.5 L951.4,638.5 L715.0,638.5 L715.0,626.5 C715.0,547.5 975.5,547.5 975.5,468.5 L975.5,468.5Z" fill="#e4966e" fill-opacity="0.215"/>
<path d="M715.0,637.5 L715.0,637.5 C715.0,716.8 673.5,716.8 673.5,796.1 L673.5,808.1 L919.9,808.1 L919.9,796.1 C919.9,716.8 951.4,716.8 951.4,637.5 L951.4,637.5Z" fill="#e4966e" fill-opacity="0.215"/>
<path d="M673.5,807.1 L673.5,807.1 C673.5,888.5 705.8,888.5 705.8,969.8 L705.8,981.8 L949.5,981.8 L949.5,969.8 C949.5,888.5 919.9,888.5 919.9,807.1 L919.9,807.1Z" fill="#e4966e" fill-opacity="0.215"/>
<rect x="691.7" y="634.4" width="5.9" height="7.2" fill="#56aecb" />
<rect x="731.0" y="634.4" width="5.9" height="7.2" fill="#56aecb" />
<rect x="772.9" y="634.4" width="2.6" height="7.2" fill="#56aecb" />
<rect x="784.8" y="634.4" width="3.3" height="7.2" fill="#56aecb" />
<rect x="788.9" y="634.4" width="11.9" height="7.2" fill="#56aecb" />
<rect x="807.1" y="634.4" width="7.4" height="7.2" fill="#56aecb" />
<rect x="815.6" y="634.4" width="3.3" height="7.2" fill="#56aecb" />
<rect x="819.7" y="634.4" width="9.3" height="7.2" fill="#56aecb" />
<rect x="836.0" y="634.4" width="7.4" height="7.2" fill="#56aecb" />
<rect x="853.1" y="634.4" width="18.6" height="7.2" fill="#56aecb" />
<rect x="926.9" y="634.4" width="5.9" height="7.2" fill="#56aecb" />
<rect x="957.0" y="634.4" width="5.6" height="7.2" fill="#56aecb" />
<rect x="1020.8" y="634.4" width="28.2" height="7.2" fill="#56aecb" />
<rect x="1134.0" y="634.4" width="7.4" height="7.2" fill="#56aecb" />
<rect x="1147.7" y="634.4" width="5.2" height="7.2" fill="#56aecb" />
<rect x="1157.3" y="634.4" width="4.1" height="7.2" fill="#56aecb" />
<rect x="633.8" y="804.0" width="5.2" height="7.2" fill="#56aecb" />
<rect x="640.1" y="804.0" width="1.9" height="7.2" fill="#56aecb" />
<rect x="644.5" y="804.0" width="2.2" height="7.2" fill="#56aecb" />
<rect x="686.8" y="804.0" width="4.5" height="7.2" fill="#56aecb" />
<rect x="731.0" y="804.0" width="21.5" height="7.2" fill="#56aecb" />
<rect x="759.9" y="804.0" width="4.8" height="7.2" fill="#56aecb" />
<rect x="778.1" y="804.0" width="11.9" height="7.2" fill="#56aecb" />
<rect x="791.1" y="804.0" width="7.8" height="7.2" fill="#56aecb" />
<rect x="810.8" y="804.0" width="7.4" height="7.2" fill="#56aecb" />
<rect x="827.1" y="804.0" width="18.6" height="7.2" fill="#56aecb" />
<rect x="899.8" y="804.0" width="5.2" height="7.2" fill="#56aecb" />
<rect x="924.7" y="804.0" width="5.9" height="7.2" fill="#56aecb" />
<rect x="971.1" y="804.0" width="34.9" height="7.2" fill="#56aecb" />
<rect x="1092.0" y="804.0" width="7.4" height="7.2" fill="#56aecb" />
<rect x="1108.0" y="804.0" width="4.1" height="7.2" fill="#56aecb" />
<rect x="1117.3" y="804.0" width="3.3" height="7.2" fill="#56aecb" />
<rect x="685.7" y="973.2" width="3.0" height="7.2" fill="#56aecb" />
<rect x="692.0" y="973.2" width="5.6" height="7.2" fill="#56aecb" />
<rect x="726.9" y="973.2" width="8.9" height="7.2" fill="#56aecb" />
<rect x="793.3" y="973.2" width="3.3" height="7.2" fill="#56aecb" />
<rect x="801.9" y="973.2" width="4.5" height="7.2" fill="#56aecb" />
<rect x="815.6" y="973.2" width="7.1" height="7.2" fill="#56aecb" />
<rect x="824.5" y="973.2" width="10.0" height="7.2" fill="#56aecb" />
<rect x="847.1" y="973.2" width="8.2" height="7.2" fill="#56aecb" />
<rect x="864.2" y="973.2" width="19.7" height="7.2" fill="#56aecb" />
<rect x="890.5" y="973.2" width="1.3" height="7.2" fill="#56aecb" />
<rect x="936.9" y="973.2" width="5.6" height="7.2" fill="#56aecb" />
<rect x="964.0" y="973.2" width="8.2" height="7.2" fill="#56aecb" />
<rect x="990.0" y="973.2" width="20.8" height="7.2" fill="#56aecb" />
<rect x="1013.7" y="973.2" width="27.1" height="7.2" fill="#56aecb" />
<rect x="1109.1" y="973.2" width="9.3" height="7.2" fill="#56aecb" />
<rect x="1125.8" y="973.2" width="5.6" height="7.2" fill="#56aecb" />
<rect x="1134.7" y="973.2" width="4.5" height="7.2" fill="#56aecb" />
<text x="823.5" y="87.0" font-family="Liberation Sans" font-size="33.28" font-weight="bold" font-style="italic" textLength="88.5" lengthAdjust="spacingAndGlyphs" fill="#c8161d" >CUC2</text>
<text x="1110.0" y="179.0" font-family="Liberation Sans" font-size="31.2" font-weight="bold" font-style="italic" textLength="199.5" lengthAdjust="spacingAndGlyphs" fill="#000" >P. lasiocarpa</text>
<text x="1127.6" y="348.0" font-family="Liberation Sans" font-size="31.2" font-weight="bold" font-style="italic" textLength="151.5" lengthAdjust="spacingAndGlyphs" fill="#000" >P. simonii</text>
<text x="1098.0" y="516.0" font-family="Liberation Sans" font-size="31.2" font-weight="bold" font-style="italic" textLength="160.5" lengthAdjust="spacingAndGlyphs" fill="#000" >P. koreana</text>
<text x="1096.0" y="690.7" font-family="Liberation Sans" font-size="31.2" font-weight="bold" font-style="italic" textLength="208.0" lengthAdjust="spacingAndGlyphs" fill="#000" >P. adenopoda</text>
<text x="1057.0" y="855.8" font-family="Liberation Sans" font-size="31.2" font-weight="bold" font-style="italic" textLength="264.5" lengthAdjust="spacingAndGlyphs" fill="#000" >P. qiongdaoensis</text>
<text x="999.0" y="1027.0" font-family="Liberation Sans" font-size="31.2" font-weight="bold" font-style="italic" textLength="356.0" lengthAdjust="spacingAndGlyphs" fill="#000" >P. alba var. pyramidalis</text>
</g>

<g id="panelB">
<text x="1310.0" y="57.6" font-family="Liberation Sans" font-size="63.44" font-weight="bold" fill="#000" >B</text>
<text x="1552.0" y="80.6" font-family="Liberation Sans" font-size="33.28" font-weight="bold" textLength="73.5" lengthAdjust="spacingAndGlyphs" fill="#000" >Chr1</text>
<text x="1876.6" y="82.0" font-family="Liberation Sans" font-size="38.48" font-weight="bold" textLength="184.5" lengthAdjust="spacingAndGlyphs" fill="#000" >INV region</text>
<text x="0.0" y="0.0" font-family="Liberation Sans" font-size="43.68" font-weight="bold" textLength="343.0" lengthAdjust="spacingAndGlyphs" fill="#000" transform="translate(1421,426.5) rotate(-90)">Synteny diversity</text>
<rect x="1770.0" y="100.0" width="398.0" height="315.0" fill="#f8ede8" />
<polyline points="1590.7,314.1 1623.6,339.5 1653.8,354.4 1683.0,347.5 1713.8,313.0 1743.5,265.3 1772.7,233.4 1802.4,226.5 1833.2,231.8 1863.4,234.0 1894.2,221.8 1923.3,197.3 1957.8,159.2 1988.6,130.0 2016.2,112.5 2044.3,111.4 2077.2,136.9 2109.0,176.7 2138.2,213.8 2167.9,235.0 2199.2,244.0 2228.4,247.7 2257.6,256.2 2289.4,269.0 2318.6,279.6" fill="none" stroke="#d9111b" stroke-width="8.2" stroke-linejoin="round"/>
<polyline points="1590.7,273.2 1623.6,293.4 1653.8,310.3 1683.0,311.9 1713.8,289.1 1743.5,256.2 1772.7,234.5 1802.4,243.0 1833.2,269.5 1863.4,297.1 1894.2,318.3 1923.3,332.6 1957.8,350.1 1988.6,368.7 2016.2,383.6 2044.3,389.9 2077.2,376.7 2109.0,347.5 2138.2,318.3 2167.9,299.7 2199.2,289.1 2228.4,283.8 2257.6,279.6 2289.4,279.0 2318.6,287.5" fill="none" stroke="#4f9db3" stroke-width="7.6" stroke-linejoin="round"/>
<polyline points="1589.1,270.6 1623.6,269.5 1650.1,266.3 1679.3,258.4 1711.1,245.1 1740.3,237.1 1769.5,245.1 1801.3,274.8 1833.2,310.3 1863.4,335.8 1892.6,342.2 1923.3,333.2 1957.8,319.9 1984.4,316.7 2016.2,317.2 2044.3,318.3 2077.2,319.9 2109.0,322.0 2138.2,325.2 2167.9,330.0 2199.2,334.2 2228.4,332.6 2257.6,323.6 2289.4,311.9 2318.6,306.6" fill="none" stroke="#ea7f14" stroke-width="7.2" stroke-linejoin="round"/>
<rect x="1550.6" y="98.5" width="817.6" height="318.3" fill="none" stroke="#333" stroke-width="3.6"/>
<line x1="1536.0" y1="108.8" x2="1550.0" y2="108.8" stroke="#333" stroke-width="3.4" />
<text x="1457.0" y="117.0" font-family="Liberation Sans" font-size="34.32" font-weight="bold" textLength="67.7" lengthAdjust="spacingAndGlyphs" fill="#000" >1.00</text>
<line x1="1536.0" y1="184.0" x2="1550.0" y2="184.0" stroke="#333" stroke-width="3.4" />
<text x="1457.0" y="192.2" font-family="Liberation Sans" font-size="34.32" font-weight="bold" textLength="67.7" lengthAdjust="spacingAndGlyphs" fill="#000" >0.75</text>
<line x1="1536.0" y1="258.9" x2="1550.0" y2="258.9" stroke="#333" stroke-width="3.4" />
<text x="1457.0" y="267.1" font-family="Liberation Sans" font-size="34.32" font-weight="bold" textLength="67.7" lengthAdjust="spacingAndGlyphs" fill="#000" >0.50</text>
<line x1="1536.0" y1="333.7" x2="1550.0" y2="333.7" stroke="#333" stroke-width="3.4" />
<text x="1457.0" y="341.9" font-family="Liberation Sans" font-size="34.32" font-weight="bold" textLength="67.7" lengthAdjust="spacingAndGlyphs" fill="#000" >0.25</text>
<line x1="1536.0" y1="408.5" x2="1550.0" y2="408.5" stroke="#333" stroke-width="3.4" />
<text x="1457.0" y="416.7" font-family="Liberation Sans" font-size="34.32" font-weight="bold" textLength="67.7" lengthAdjust="spacingAndGlyphs" fill="#000" >0.00</text>
<line x1="1586.0" y1="417.0" x2="1586.0" y2="433.5" stroke="#333" stroke-width="3.4" />
<line x1="1772.5" y1="417.0" x2="1772.5" y2="433.5" stroke="#333" stroke-width="3.4" />
<line x1="1958.0" y1="417.0" x2="1958.0" y2="433.5" stroke="#333" stroke-width="3.4" />
<line x1="2144.5" y1="417.0" x2="2144.5" y2="433.5" stroke="#333" stroke-width="3.4" />
<line x1="2330.0" y1="417.0" x2="2330.0" y2="433.5" stroke="#333" stroke-width="3.4" />
<text x="1557.8" y="472.4" font-family="Liberation Sans" font-size="34.32" font-weight="bold" textLength="64.5" lengthAdjust="spacingAndGlyphs" fill="#000" >42.1</text>
<text x="1925.0" y="472.4" font-family="Liberation Sans" font-size="34.32" font-weight="bold" textLength="67.0" lengthAdjust="spacingAndGlyphs" fill="#000" >42.2</text>
<text x="2284.0" y="472.4" font-family="Liberation Sans" font-size="34.32" font-weight="bold" textLength="129.0" lengthAdjust="spacingAndGlyphs" fill="#000" >42.3 Mb</text>
<text x="1722.0" y="184.3" font-family="Liberation Sans" font-size="37.96" font-weight="bold" textLength="188.0" lengthAdjust="spacingAndGlyphs" fill="#cf171f" >Inter-clade</text>
<text x="1881.0" y="291.8" font-family="Liberation Serif" font-size="40" font-weight="bold" textLength="119.0" lengthAdjust="spacingAndGlyphs" fill="#4f9db3" >Clade-I</text>
<text x="2180.6" y="374.0" font-family="Liberation Serif" font-size="40" font-weight="bold" textLength="133.5" lengthAdjust="spacingAndGlyphs" fill="#ea7f14" >Clade-II</text>
<path d="M1866.5,392 L1901.5,392 L1884,414.3Z" fill="#fff" stroke="#e0242e" stroke-width="3.1" stroke-linejoin="miter"/>
<path d="M1590.7,527 L1876.7,425 L2329,513.5" fill="none" stroke="#d9363c" stroke-width="3.8" stroke-dasharray="8.5 7"/>
</g>

<g id="panelC">
<text x="1314.0" y="538.0" font-family="Liberation Sans" font-size="62.92" font-weight="bold" fill="#000" >C</text>
<text x="0.0" y="0.0" font-family="Liberation Sans" font-size="42.12" font-weight="bold" textLength="425.0" lengthAdjust="spacingAndGlyphs" fill="#000" transform="translate(1428,948) rotate(-90)">Sequence divergence</text>
<rect x="1830.0" y="542.0" width="25.0" height="341.0" fill="#d6d6d6" />
<polyline points="1589.1,688.5 1598.7,705.5 1609.3,717.1 1618.3,777.1 1628.9,840.7 1639.5,863.6 1649.1,865.7 1659.2,859.3 1668.7,860.9 1677.7,852.9 1687.3,859.3 1697.9,868.3 1706.9,859.3 1716.4,849.8 1726.0,840.7 1736.1,856.7 1745.6,827.5 1756.2,810.5 1766.8,823.8 1775.9,823.8 1785.4,793.0 1794.4,724.0 1804.0,706.5 1813.5,716.1 1824.1,755.9 1833.2,851.4 1843.8,846.0 1854.4,849.8 1863.9,852.9 1874.0,859.3 1883.6,848.7 1892.6,859.3 1903.2,860.9 1912.7,851.4 1922.3,839.2 1932.4,847.1 1941.9,858.2 1951.5,858.2 1962.1,814.2 1971.6,815.8 1981.7,867.3 2000.3,869.9 2021.5,872.6 2042.7,867.3 2063.9,869.9 2082.5,871.5 2101.1,872.6 2119.6,866.2 2138.2,864.6 2159.4,872.6 2178.0,869.9 2196.6,867.3 2217.8,854.5 2236.3,862.0 2254.9,869.9 2275.1,871.5 2294.7,863.0 2315.9,868.9 2334.5,856.7" fill="none" stroke="#ee8318" stroke-width="4.8" stroke-linejoin="round" stroke-linecap="round"/>
<polyline points="1589.1,622.2 1598.7,625.9 1609.3,648.7 1618.3,673.6 1628.9,667.3 1639.5,673.6 1649.1,710.8 1659.2,746.8 1668.7,745.3 1677.7,739.9 1687.3,793.0 1697.9,847.6 1706.9,854.0 1716.4,795.6 1726.0,779.7 1736.1,781.3 1745.6,771.8 1756.2,789.3 1766.8,764.9 1775.9,770.7 1785.4,777.1 1794.4,729.3 1804.0,724.0 1813.5,743.7 1824.1,671.0 1833.2,633.8 1843.8,632.3 1854.4,644.5 1863.9,708.1 1874.0,846.0 1883.6,851.4 1892.6,859.3 1903.2,860.9 1912.7,838.1 1922.3,823.8 1932.4,843.4 1941.9,848.7 1951.5,862.0 1962.1,827.5 1971.6,840.7 1981.7,859.3 2000.3,867.3 2021.5,871.5 2042.7,868.9 2063.9,871.0 2082.5,868.3 2101.1,862.0 2119.6,864.6 2138.2,863.6 2159.4,869.9 2178.0,867.3 2196.6,868.9 2217.8,862.0 2236.3,857.7 2254.9,866.2 2275.1,859.3 2284.1,830.1 2294.7,797.2 2305.3,798.3 2315.9,802.0 2334.5,793.0" fill="none" stroke="#dc2f37" stroke-width="4.8" stroke-linejoin="round" stroke-linecap="round"/>
<polyline points="1589.1,721.4 1598.7,761.2 1609.3,754.3 1618.3,782.4 1628.9,832.8 1639.5,858.2 1649.1,863.6 1659.2,856.7 1668.7,865.7 1677.7,859.3 1687.3,864.6 1697.9,855.6 1706.9,857.7 1716.4,846.0 1726.0,859.3 1736.1,859.3 1745.6,859.8 1756.2,851.4 1766.8,845.0 1775.9,868.3 1785.4,811.6 1794.4,763.8 1804.0,761.2 1813.5,768.1 1824.1,787.7 1833.2,827.5 1843.8,848.7 1854.4,859.3 1863.9,863.6 1874.0,872.6 1883.6,869.9 1892.6,866.2 1903.2,862.0 1912.7,854.0 1922.3,842.3 1932.4,864.6 1941.9,868.9 1951.5,871.5 1962.1,866.2 1971.6,871.5 1981.7,858.2 2000.3,866.2 2021.5,871.5 2042.7,871.5 2063.9,871.0 2082.5,868.9 2101.1,867.3 2119.6,868.3 2138.2,864.6 2159.4,868.9 2178.0,867.3 2196.6,869.9 2217.8,872.6 2236.3,871.0 2254.9,867.3 2275.1,856.7 2284.1,830.1 2294.7,796.7 2305.3,798.3 2315.9,798.3 2334.5,789.3" fill="none" stroke="#58b1cd" stroke-width="4.8" stroke-linejoin="round" stroke-linecap="round"/>
<rect x="1553" y="541.3" width="819" height="342.5" fill="none" stroke="#333" stroke-width="3.6"/>
<line x1="1539.0" y1="623.0" x2="1552.0" y2="623.0" stroke="#333" stroke-width="3.4" />
<text x="1480.0" y="628.2" font-family="Liberation Sans" font-size="34.32" font-weight="bold" textLength="49.0" lengthAdjust="spacingAndGlyphs" fill="#000" >0.6</text>
<line x1="1539.0" y1="705.7" x2="1552.0" y2="705.7" stroke="#333" stroke-width="3.4" />
<text x="1480.0" y="710.9" font-family="Liberation Sans" font-size="34.32" font-weight="bold" textLength="49.0" lengthAdjust="spacingAndGlyphs" fill="#000" >0.4</text>
<line x1="1539.0" y1="788.7" x2="1552.0" y2="788.7" stroke="#333" stroke-width="3.4" />
<text x="1480.0" y="793.9" font-family="Liberation Sans" font-size="34.32" font-weight="bold" textLength="49.0" lengthAdjust="spacingAndGlyphs" fill="#000" >0.2</text>
<line x1="1539.0" y1="871.7" x2="1552.0" y2="871.7" stroke="#333" stroke-width="3.4" />
<text x="1480.0" y="876.9" font-family="Liberation Sans" font-size="34.32" font-weight="bold" textLength="49.0" lengthAdjust="spacingAndGlyphs" fill="#000" >0.0</text>
<line x1="1579.5" y1="886.0" x2="1579.5" y2="898.5" stroke="#333" stroke-width="3.4" />
<line x1="1980.5" y1="886.0" x2="1980.5" y2="898.5" stroke="#333" stroke-width="3.4" />
<line x1="2334.5" y1="886.0" x2="2334.5" y2="898.5" stroke="#333" stroke-width="3.4" />
<text x="1532.7" y="939.3" font-family="Liberation Sans" font-size="34.32" font-weight="bold" textLength="97.0" lengthAdjust="spacingAndGlyphs" fill="#000" >-2kbp</text>
<text x="1946.0" y="943.3" font-family="Liberation Sans" font-size="35.88" font-weight="bold" textLength="72.0" lengthAdjust="spacingAndGlyphs" fill="#000" >TSS</text>
<text x="2296.5" y="940.8" font-family="Liberation Sans" font-size="35.88" font-weight="bold" textLength="72.0" lengthAdjust="spacingAndGlyphs" fill="#000" >TES</text>
<line x1="1953.5" y1="574.5" x2="1991.0" y2="574.5" stroke="#58b1cd" stroke-width="3.6" />
<text x="2004.5" y="583.5" font-family="Liberation Serif" font-size="30.5" font-weight="bold" textLength="106.0" lengthAdjust="spacingAndGlyphs" fill="#58b1cd" >Clade-I</text>
<line x1="1953.5" y1="616.0" x2="1991.0" y2="616.0" stroke="#ee8318" stroke-width="3.6" />
<text x="2002.0" y="626.5" font-family="Liberation Serif" font-size="30.5" font-weight="bold" textLength="118.5" lengthAdjust="spacingAndGlyphs" fill="#ee8318" >Clade-II</text>
<line x1="1956.0" y1="665.5" x2="1995.0" y2="665.5" stroke="#dc2f37" stroke-width="3.6" />
<text x="2006.0" y="672.0" font-family="Liberation Sans" font-size="31.72" font-weight="bold" textLength="168.0" lengthAdjust="spacingAndGlyphs" fill="#d3222a" >Inter-clade</text>
<line x1="1945.5" y1="754.8" x2="2341.5" y2="754.8" stroke="#000" stroke-width="3.8" />
<rect x="1974.8" y="736.8" width="73.7" height="35.5" fill="#9b9b9b" />
<rect x="2061.0" y="736.8" width="39.5" height="35.5" fill="#9b9b9b" />
<path d="M2227,736.8 L2297,736.8 L2324,754.8 L2297,772.3 L2227,772.3Z" fill="#9b9b9b"/>
<text x="2114.0" y="801.5" font-family="Liberation Sans" font-size="31.72" font-weight="bold" font-style="italic" textLength="89.0" lengthAdjust="spacingAndGlyphs" fill="#cf2f36" >CUC2</text>
<line x1="1833.0" y1="888.0" x2="1516.5" y2="977.5" stroke="#000" stroke-width="3.6" />
<line x1="1841.0" y1="888.0" x2="2012.5" y2="965.0" stroke="#000" stroke-width="3.6" />
<text x="1692.6" y="975.0" font-family="Liberation Sans" font-size="33.28" font-weight="bold" textLength="237.7" lengthAdjust="spacingAndGlyphs" fill="#e1234b" >SV (175-186bp)</text>
<rect x="2023.6" y="985.8" width="368.4" height="105.0" fill="#fbe5d6" />
<rect x="2025.8" y="1093.5" width="366.2" height="106.0" fill="#e4f1f6" />
<text x="1511.0" y="1017.0" font-family="Liberation Sans" font-size="28.6" textLength="238.0" lengthAdjust="spacingAndGlyphs" fill="#000" >TCAATAAAAATTT</text>
<rect x="1758.5" y="1006.5" width="5.0" height="3.6" fill="#111" />
<rect x="1767.9" y="1006.5" width="5.0" height="3.6" fill="#111" />
<rect x="1777.3" y="1006.5" width="5.0" height="3.6" fill="#111" />
<rect x="1786.7" y="1006.5" width="5.0" height="3.6" fill="#111" />
<rect x="1796.1" y="1006.5" width="5.0" height="3.6" fill="#111" />
<rect x="1805.5" y="1006.5" width="5.0" height="3.6" fill="#111" />
<text x="1822.5" y="1017.0" font-family="Liberation Sans" font-size="28.6" textLength="196.0" lengthAdjust="spacingAndGlyphs" fill="#000" >TCAAGAAAAC</text>
<text x="1511.0" y="1052.6" font-family="Liberation Sans" font-size="28.6" textLength="238.0" lengthAdjust="spacingAndGlyphs" fill="#000" >TCAATAAAAATTT</text>
<rect x="1758.5" y="1042.1" width="5.0" height="3.6" fill="#111" />
<rect x="1767.9" y="1042.1" width="5.0" height="3.6" fill="#111" />
<rect x="1777.3" y="1042.1" width="5.0" height="3.6" fill="#111" />
<rect x="1786.7" y="1042.1" width="5.0" height="3.6" fill="#111" />
<rect x="1796.1" y="1042.1" width="5.0" height="3.6" fill="#111" />
<rect x="1805.5" y="1042.1" width="5.0" height="3.6" fill="#111" />
<text x="1822.5" y="1052.6" font-family="Liberation Sans" font-size="28.6" textLength="196.0" lengthAdjust="spacingAndGlyphs" fill="#000" >TCAAGAAAAC</text>
<text x="1511.0" y="1088.0" font-family="Liberation Sans" font-size="28.6" textLength="238.0" lengthAdjust="spacingAndGlyphs" fill="#000" >TCAATAAAAATTT</text>
<rect x="1758.5" y="1077.5" width="5.0" height="3.6" fill="#111" />
<rect x="1767.9" y="1077.5" width="5.0" height="3.6" fill="#111" />
<rect x="1777.3" y="1077.5" width="5.0" height="3.6" fill="#111" />
<rect x="1786.7" y="1077.5" width="5.0" height="3.6" fill="#111" />
<rect x="1796.1" y="1077.5" width="5.0" height="3.6" fill="#111" />
<rect x="1805.5" y="1077.5" width="5.0" height="3.6" fill="#111" />
<text x="1822.5" y="1088.0" font-family="Liberation Sans" font-size="28.6" textLength="200.0" lengthAdjust="spacingAndGlyphs" fill="#000" >TCGAGAAAAC</text>
<text x="1511.0" y="1122.4" font-family="Liberation Sans" font-size="28.6" textLength="166.5" lengthAdjust="spacingAndGlyphs" fill="#000" >TCAATAAAA</text>
<line x1="1683.0" y1="1114.1" x2="1919.5" y2="1114.1" stroke="#d9333f" stroke-width="2.3" />
<text x="1927.0" y="1122.4" font-family="Liberation Sans" font-size="28.6" textLength="97.0" lengthAdjust="spacingAndGlyphs" fill="#000" >AAAAC</text>
<text x="1511.0" y="1158.0" font-family="Liberation Sans" font-size="28.6" textLength="148.0" lengthAdjust="spacingAndGlyphs" fill="#000" >TCAATAAA</text>
<line x1="1664.5" y1="1149.7" x2="1913.7" y2="1149.7" stroke="#d9333f" stroke-width="2.3" />
<text x="1923.5" y="1158.0" font-family="Liberation Sans" font-size="28.6" textLength="97.0" lengthAdjust="spacingAndGlyphs" fill="#000" >AAAAC</text>
<text x="1511.0" y="1191.4" font-family="Liberation Sans" font-size="28.6" textLength="148.0" lengthAdjust="spacingAndGlyphs" fill="#000" >TCAATAAA</text>
<line x1="1664.0" y1="1183.1" x2="1913.0" y2="1183.1" stroke="#d9333f" stroke-width="2.3" />
<text x="1923.5" y="1191.4" font-family="Liberation Sans" font-size="28.6" textLength="97.0" lengthAdjust="spacingAndGlyphs" fill="#000" >AAAAC</text>
<text x="2031.6" y="1015.0" font-family="Liberation Sans" font-size="31.72" font-weight="bold" font-style="italic" textLength="356.0" lengthAdjust="spacingAndGlyphs" fill="#1f1410" >P. alba var. pyramidalis</text>
<text x="2033.0" y="1050.6" font-family="Liberation Sans" font-size="31.72" font-weight="bold" font-style="italic" textLength="210.0" lengthAdjust="spacingAndGlyphs" fill="#1f1410" >P. adenopoda</text>
<text x="2035.0" y="1086.0" font-family="Liberation Sans" font-size="31.72" font-weight="bold" font-style="italic" textLength="265.0" lengthAdjust="spacingAndGlyphs" fill="#1f1410" >P. qiongdaoensis</text>
<text x="2032.0" y="1122.4" font-family="Liberation Sans" font-size="31.72" font-weight="bold" font-style="italic" textLength="200.0" lengthAdjust="spacingAndGlyphs" fill="#1f1410" >P. lasiocarpa</text>
<text x="2034.0" y="1158.0" font-family="Liberation Sans" font-size="31.72" font-weight="bold" font-style="italic" textLength="161.0" lengthAdjust="spacingAndGlyphs" fill="#1f1410" >P. koreana</text>
<text x="2035.5" y="1191.4" font-family="Liberation Sans" font-size="31.72" font-weight="bold" font-style="italic" textLength="150.0" lengthAdjust="spacingAndGlyphs" fill="#1f1410" >P. simonii</text>
</g>

<g id="panelD">
<text x="24.0" y="1213.5" font-family="Liberation Sans" font-size="62.92" font-weight="bold" fill="#000" >D</text>
<line x1="150.0" y1="1214.5" x2="210.0" y2="1214.5" stroke="#000" stroke-width="3.3" />
<path d="M207,1184.5 L363,1184.5 L363,1158 L421,1215 L363,1272.5 L363,1246.5 L207,1246.5Z" fill="#acadad"/>
<rect x="418.3" y="1172.8" width="152.6" height="84.0" fill="#ecc9b7" />
<rect x="570.7" y="1172.8" width="213.0" height="84.0" fill="#d03236" />
<rect x="783.5" y="1172.8" width="141.5" height="84.0" fill="#add8e6" />
<line x1="922.0" y1="1214.5" x2="993.0" y2="1214.5" stroke="#000" stroke-width="3.3" />
<text x="262" y="1226.5" font-family="Liberation Sans" font-size="36" font-weight="bold" textLength="71" lengthAdjust="spacingAndGlyphs">35<tspan font-style="italic">S</tspan></text>
<text x="449.5" y="1227.5" font-family="Liberation Sans" font-size="37.44" font-weight="bold" font-style="italic" textLength="78.0" lengthAdjust="spacingAndGlyphs" fill="#000" >REN</text>
<text x="598.0" y="1226.5" font-family="Liberation Sans" font-size="37.44" font-weight="bold" font-style="italic" textLength="161.0" lengthAdjust="spacingAndGlyphs" fill="#fff" >proCUC2</text>
<text x="812.0" y="1227.5" font-family="Liberation Sans" font-size="37.44" font-weight="bold" font-style="italic" textLength="74.5" lengthAdjust="spacingAndGlyphs" fill="#000" >LUC</text>
<text x="27.8" y="1331.0" font-family="Liberation Sans" font-size="31.72" font-weight="bold" font-style="italic" textLength="356.0" lengthAdjust="spacingAndGlyphs" fill="#ec7f14" >P. alba var. pyramidalis</text>
<text x="117.7" y="1403.0" font-family="Liberation Sans" font-size="31.72" font-weight="bold" font-style="italic" textLength="264.5" lengthAdjust="spacingAndGlyphs" fill="#ec7f14" >P. qiongdaoensis</text>
<text x="170.4" y="1467.0" font-family="Liberation Sans" font-size="31.72" font-weight="bold" font-style="italic" textLength="208.5" lengthAdjust="spacingAndGlyphs" fill="#ec7f14" >P. adenopoda</text>
<text x="1.3" y="1533.5" font-family="Liberation Sans" font-size="31.72" font-weight="bold" font-style="italic" textLength="388.0" lengthAdjust="spacingAndGlyphs" fill="#ec7f14" >P. alba var. pyramidalisΔ</text>
<text x="99.3" y="1589.5" font-family="Liberation Sans" font-size="31.72" font-weight="bold" font-style="italic" textLength="288.0" lengthAdjust="spacingAndGlyphs" fill="#ec7f14" >P. qiongdaoensisΔ</text>
<text x="151.0" y="1651.0" font-family="Liberation Sans" font-size="31.72" font-weight="bold" font-style="italic" textLength="232.0" lengthAdjust="spacingAndGlyphs" fill="#ec7f14" >P. adenopodaΔ</text>
<text x="218.4" y="1724.0" font-family="Liberation Sans" font-size="31.72" font-weight="bold" font-style="italic" textLength="160.5" lengthAdjust="spacingAndGlyphs" fill="#5ab0cb" >P. koreana</text>
<text x="179.0" y="1785.0" font-family="Liberation Sans" font-size="31.72" font-weight="bold" font-style="italic" textLength="200.0" lengthAdjust="spacingAndGlyphs" fill="#5ab0cb" >P. lasiocarpa</text>
<text x="227.0" y="1850.5" font-family="Liberation Sans" font-size="31.72" font-weight="bold" font-style="italic" textLength="150.5" lengthAdjust="spacingAndGlyphs" fill="#5ab0cb" >P. simonii</text>
<rect x="394.8" y="1315.4" width="379.2" height="18.2" fill="#bebfbf" />
<rect x="501.0" y="1315.4" width="97.0" height="18.2" fill="#d93237" />
<rect x="776.7" y="1305.7" width="84" height="36.5" fill="#fff" stroke="#5e9a3b" stroke-width="2.2"/>
<text x="816.2" y="1334.0" font-family="Liberation Sans" font-size="23.92" font-style="italic" text-anchor="middle" textLength="50.0" lengthAdjust="spacingAndGlyphs" fill="#000" >LUC</text>
<text x="466.7" y="1359.0" font-family="Liberation Sans" font-size="24.96" textLength="48.5" lengthAdjust="spacingAndGlyphs" fill="#000" >-744</text>
<text x="574.6" y="1359.0" font-family="Liberation Sans" font-size="24.96" textLength="48.5" lengthAdjust="spacingAndGlyphs" fill="#000" >-569</text>
<rect x="400.0" y="1386.0" width="376.0" height="18.2" fill="#bebfbf" />
<rect x="501.8" y="1386.0" width="97.2" height="18.2" fill="#d93237" />
<rect x="776.7" y="1377.2" width="84" height="36.5" fill="#fff" stroke="#5e9a3b" stroke-width="2.2"/>
<text x="816.2" y="1405.5" font-family="Liberation Sans" font-size="23.92" font-style="italic" text-anchor="middle" textLength="50.0" lengthAdjust="spacingAndGlyphs" fill="#000" >LUC</text>
<text x="464.5" y="1432.7" font-family="Liberation Sans" font-size="24.96" textLength="48.5" lengthAdjust="spacingAndGlyphs" fill="#000" >-786</text>
<text x="571.6" y="1432.7" font-family="Liberation Sans" font-size="24.96" textLength="48.5" lengthAdjust="spacingAndGlyphs" fill="#000" >-601</text>
<rect x="400.0" y="1449.4" width="378.4" height="18.2" fill="#bebfbf" />
<rect x="502.7" y="1449.4" width="98.0" height="18.2" fill="#d93237" />
<rect x="779.1" y="1440.2" width="84" height="36.5" fill="#fff" stroke="#5e9a3b" stroke-width="2.2"/>
<text x="818.6" y="1468.5" font-family="Liberation Sans" font-size="23.92" font-style="italic" text-anchor="middle" textLength="50.0" lengthAdjust="spacingAndGlyphs" fill="#000" >LUC</text>
<text x="468.8" y="1494.0" font-family="Liberation Sans" font-size="24.96" textLength="48.5" lengthAdjust="spacingAndGlyphs" fill="#000" >-781</text>
<text x="574.6" y="1494.0" font-family="Liberation Sans" font-size="24.96" textLength="48.5" lengthAdjust="spacingAndGlyphs" fill="#000" >-595</text>
<rect x="398.0" y="1515.3" width="108.5" height="18.2" fill="#bebfbf" />
<rect x="599.4" y="1515.3" width="177.6" height="18.2" fill="#bebfbf" />
<line x1="505.0" y1="1527.3" x2="602.0" y2="1527.3" stroke="#9a2a2a" stroke-width="2.4" stroke-dasharray="5.5 5.2"/>
<text x="505.0" y="1521.8" font-family="Liberation Sans" font-size="26.52" textLength="96.5" lengthAdjust="spacingAndGlyphs" fill="#1f1410" >Deletion</text>
<rect x="777.7" y="1507.0" width="84" height="36.5" fill="#fff" stroke="#5e9a3b" stroke-width="2.2"/>
<text x="817.2" y="1535.3" font-family="Liberation Sans" font-size="23.92" font-style="italic" text-anchor="middle" textLength="50.0" lengthAdjust="spacingAndGlyphs" fill="#000" >LUC</text>
<rect x="398.0" y="1577.4" width="108.5" height="18.2" fill="#bebfbf" />
<rect x="600.0" y="1574.0" width="178.0" height="18.2" fill="#bebfbf" />
<line x1="503.0" y1="1583.0" x2="601.0" y2="1583.0" stroke="#9a2a2a" stroke-width="2.4" stroke-dasharray="5.5 5.2"/>
<text x="509.5" y="1574.4" font-family="Liberation Sans" font-size="26.52" textLength="96.5" lengthAdjust="spacingAndGlyphs" fill="#1f1410" >Deletion</text>
<rect x="779.7" y="1564.8" width="84" height="36.5" fill="#fff" stroke="#5e9a3b" stroke-width="2.2"/>
<text x="819.2" y="1593.1" font-family="Liberation Sans" font-size="23.92" font-style="italic" text-anchor="middle" textLength="50.0" lengthAdjust="spacingAndGlyphs" fill="#000" >LUC</text>
<rect x="396.0" y="1639.4" width="108.4" height="18.2" fill="#bebfbf" />
<rect x="600.7" y="1639.4" width="178.5" height="18.2" fill="#bebfbf" />
<line x1="507.0" y1="1649.0" x2="597.0" y2="1649.0" stroke="#9a2a2a" stroke-width="2.4" stroke-dasharray="5.5 5.2"/>
<text x="507.5" y="1639.4" font-family="Liberation Sans" font-size="26.52" textLength="96.5" lengthAdjust="spacingAndGlyphs" fill="#1f1410" >Deletion</text>
<rect x="779.9" y="1630.2" width="84" height="36.5" fill="#fff" stroke="#5e9a3b" stroke-width="2.2"/>
<text x="819.4" y="1658.5" font-family="Liberation Sans" font-size="23.92" font-style="italic" text-anchor="middle" textLength="50.0" lengthAdjust="spacingAndGlyphs" fill="#000" >LUC</text>
<rect x="398.0" y="1707.0" width="108.5" height="18.2" fill="#bebfbf" />
<rect x="608.0" y="1707.0" width="176.4" height="18.2" fill="#bebfbf" />
<line x1="509.5" y1="1717.7" x2="608.0" y2="1717.7" stroke="#000" stroke-width="2.4" stroke-dasharray="5.5 5.2"/>
<text x="510.0" y="1705.0" font-family="Liberation Sans" font-size="26.52" textLength="96.5" lengthAdjust="spacingAndGlyphs" fill="#1f1410" >Deletion</text>
<rect x="785.1" y="1698.2" width="84" height="36.5" fill="#fff" stroke="#5e9a3b" stroke-width="2.2"/>
<text x="824.6" y="1726.5" font-family="Liberation Sans" font-size="23.92" font-style="italic" text-anchor="middle" textLength="50.0" lengthAdjust="spacingAndGlyphs" fill="#000" >LUC</text>
<text x="591.7" y="1744.3" font-family="Liberation Sans" font-size="24.96" textLength="49.0" lengthAdjust="spacingAndGlyphs" fill="#000" >-580</text>
<rect x="398.0" y="1767.4" width="108.5" height="18.2" fill="#bebfbf" />
<rect x="603.7" y="1767.4" width="176.3" height="18.2" fill="#bebfbf" />
<line x1="506.5" y1="1776.4" x2="603.7" y2="1776.4" stroke="#000" stroke-width="2.4" stroke-dasharray="5.5 5.2"/>
<text x="508.0" y="1765.7" font-family="Liberation Sans" font-size="26.52" textLength="96.5" lengthAdjust="spacingAndGlyphs" fill="#1f1410" >Deletion</text>
<rect x="780.7" y="1759.5" width="84" height="36.5" fill="#fff" stroke="#5e9a3b" stroke-width="2.2"/>
<text x="820.2" y="1787.8" font-family="Liberation Sans" font-size="23.92" font-style="italic" text-anchor="middle" textLength="50.0" lengthAdjust="spacingAndGlyphs" fill="#000" >LUC</text>
<text x="587.4" y="1811.0" font-family="Liberation Sans" font-size="24.96" textLength="49.0" lengthAdjust="spacingAndGlyphs" fill="#000" >-580</text>
<rect x="401.6" y="1834.6" width="107.9" height="18.2" fill="#bebfbf" />
<rect x="601.6" y="1834.6" width="177.6" height="18.2" fill="#bebfbf" />
<line x1="504.5" y1="1844.5" x2="603.0" y2="1844.5" stroke="#000" stroke-width="2.4" stroke-dasharray="5.5 5.2"/>
<text x="510.0" y="1835.5" font-family="Liberation Sans" font-size="26.52" textLength="96.5" lengthAdjust="spacingAndGlyphs" fill="#1f1410" >Deletion</text>
<rect x="779.9" y="1826.2" width="84" height="36.5" fill="#fff" stroke="#5e9a3b" stroke-width="2.2"/>
<text x="819.4" y="1854.5" font-family="Liberation Sans" font-size="23.92" font-style="italic" text-anchor="middle" textLength="50.0" lengthAdjust="spacingAndGlyphs" fill="#000" >LUC</text>
<text x="586.6" y="1874.0" font-family="Liberation Sans" font-size="24.96" textLength="49.0" lengthAdjust="spacingAndGlyphs" fill="#000" >-580</text>
</g>

<g id="panelD2">
<defs><pattern id="hat" width="28.6" height="60" patternUnits="userSpaceOnUse" patternTransform="translate(890,1500)"><path d="M3,38 L24,14" stroke="#ec7f14" stroke-width="3.4" stroke-linecap="butt"/></pattern></defs>
<rect x="887.3" y="1313.0" width="620.5" height="39.0" fill="#ec7f14" />
<rect x="887.3" y="1377.8" width="497.3" height="38.8" fill="#ec7f14" />
<rect x="887.3" y="1442.0" width="451.4" height="40.0" fill="#e27b1f" />
<rect x="887.3" y="1695.0" width="181.5" height="38.6" fill="#5ab0cb" />
<rect x="887.3" y="1757.8" width="349.7" height="39.2" fill="#5ab0cb" />
<rect x="887.3" y="1822.0" width="248.4" height="39.0" fill="#5ab0cb" />
<rect x="886.3" y="1505.9" width="288.8" height="38.9" fill="#fff" stroke="#ec7f14" stroke-width="3.6"/>
<rect x="886.3" y="1567.2" width="126.6" height="37.6" fill="#fff" stroke="#ec7f14" stroke-width="3.6"/>
<rect x="886.3" y="1631.0" width="203.8" height="38.6" fill="#fff" stroke="#ec7f14" stroke-width="3.6"/>
<line x1="901.6" y1="1538.8" x2="925.1" y2="1512.6" stroke="#ec7f14" stroke-width="4.1" />
<line x1="932.4" y1="1538.8" x2="955.9" y2="1512.6" stroke="#ec7f14" stroke-width="4.1" />
<line x1="960.4" y1="1538.8" x2="983.9" y2="1512.6" stroke="#ec7f14" stroke-width="4.1" />
<line x1="990.3" y1="1538.8" x2="1013.8" y2="1512.6" stroke="#ec7f14" stroke-width="4.1" />
<line x1="1017.4" y1="1538.8" x2="1040.9" y2="1512.6" stroke="#ec7f14" stroke-width="4.1" />
<line x1="1044.5" y1="1538.8" x2="1068.0" y2="1512.6" stroke="#ec7f14" stroke-width="4.1" />
<line x1="1072.5" y1="1538.8" x2="1096.0" y2="1512.6" stroke="#ec7f14" stroke-width="4.1" />
<line x1="1100.6" y1="1538.8" x2="1124.1" y2="1512.6" stroke="#ec7f14" stroke-width="4.1" />
<line x1="1127.7" y1="1538.8" x2="1151.2" y2="1512.6" stroke="#ec7f14" stroke-width="4.1" />
<line x1="893.5" y1="1598.1" x2="917.4" y2="1570.2" stroke="#ec7f14" stroke-width="4.1" />
<line x1="918.5" y1="1598.1" x2="942.4" y2="1570.2" stroke="#ec7f14" stroke-width="4.1" />
<line x1="942.7" y1="1598.1" x2="966.6" y2="1570.2" stroke="#ec7f14" stroke-width="4.1" />
<line x1="967.6" y1="1598.1" x2="991.5" y2="1570.2" stroke="#ec7f14" stroke-width="4.1" />
<line x1="893.5" y1="1663.6" x2="917.4" y2="1634.7" stroke="#ec7f14" stroke-width="4.1" />
<line x1="920.6" y1="1663.6" x2="944.5" y2="1634.7" stroke="#ec7f14" stroke-width="4.1" />
<line x1="973.0" y1="1663.6" x2="996.9" y2="1634.7" stroke="#ec7f14" stroke-width="4.1" />
<line x1="1022.8" y1="1663.6" x2="1046.7" y2="1634.7" stroke="#ec7f14" stroke-width="4.1" />
<line x1="1050.0" y1="1663.6" x2="1073.9" y2="1634.7" stroke="#ec7f14" stroke-width="4.1" />
<line x1="946.0" y1="1666.3" x2="969.7" y2="1638.0" stroke="#ec7f14" stroke-width="4.1" />
<line x1="993.9" y1="1666.3" x2="1017.6" y2="1638.0" stroke="#ec7f14" stroke-width="4.1" />
<line x1="1443.9" y1="1332.7" x2="1571.7" y2="1332.7" stroke="#000" stroke-width="3.2" />
<line x1="1443.9" y1="1320.2" x2="1443.9" y2="1345.2" stroke="#000" stroke-width="3.2" />
<line x1="1571.7" y1="1320.2" x2="1571.7" y2="1345.2" stroke="#000" stroke-width="3.2" />
<line x1="1280.6" y1="1397.0" x2="1488.2" y2="1397.0" stroke="#000" stroke-width="3.2" />
<line x1="1280.6" y1="1384.5" x2="1280.6" y2="1409.5" stroke="#000" stroke-width="3.2" />
<line x1="1488.2" y1="1384.5" x2="1488.2" y2="1409.5" stroke="#000" stroke-width="3.2" />
<line x1="1284.8" y1="1462.0" x2="1390.9" y2="1462.0" stroke="#000" stroke-width="3.2" />
<line x1="1284.8" y1="1449.5" x2="1284.8" y2="1474.5" stroke="#000" stroke-width="3.2" />
<line x1="1390.9" y1="1449.5" x2="1390.9" y2="1474.5" stroke="#000" stroke-width="3.2" />
<line x1="1161.6" y1="1525.6" x2="1190.0" y2="1525.6" stroke="#000" stroke-width="3.2" />
<line x1="1161.6" y1="1513.1" x2="1161.6" y2="1538.1" stroke="#000" stroke-width="3.2" />
<line x1="1190.0" y1="1513.1" x2="1190.0" y2="1538.1" stroke="#000" stroke-width="3.2" />
<line x1="1000.0" y1="1585.8" x2="1027.0" y2="1585.8" stroke="#000" stroke-width="3.2" />
<line x1="1000.0" y1="1573.3" x2="1000.0" y2="1598.3" stroke="#000" stroke-width="3.2" />
<line x1="1027.0" y1="1573.3" x2="1027.0" y2="1598.3" stroke="#000" stroke-width="3.2" />
<line x1="1083.5" y1="1650.0" x2="1098.0" y2="1650.0" stroke="#000" stroke-width="3.2" />
<line x1="1083.5" y1="1637.5" x2="1083.5" y2="1662.5" stroke="#000" stroke-width="3.2" />
<line x1="1098.0" y1="1637.5" x2="1098.0" y2="1662.5" stroke="#000" stroke-width="3.2" />
<line x1="1030.0" y1="1714.0" x2="1108.0" y2="1714.0" stroke="#000" stroke-width="3.2" />
<line x1="1030.0" y1="1701.5" x2="1030.0" y2="1726.5" stroke="#000" stroke-width="3.2" />
<line x1="1108.0" y1="1701.5" x2="1108.0" y2="1726.5" stroke="#000" stroke-width="3.2" />
<line x1="1190.0" y1="1777.5" x2="1283.0" y2="1777.5" stroke="#000" stroke-width="3.2" />
<line x1="1190.0" y1="1765.0" x2="1190.0" y2="1790.0" stroke="#000" stroke-width="3.2" />
<line x1="1283.0" y1="1765.0" x2="1283.0" y2="1790.0" stroke="#000" stroke-width="3.2" />
<line x1="1127.3" y1="1841.4" x2="1144.0" y2="1841.4" stroke="#000" stroke-width="3.2" />
<line x1="1127.3" y1="1828.9" x2="1127.3" y2="1853.9" stroke="#000" stroke-width="3.2" />
<line x1="1144.0" y1="1828.9" x2="1144.0" y2="1853.9" stroke="#000" stroke-width="3.2" />
<line x1="886.0" y1="1293.0" x2="886.0" y2="1877.2" stroke="#000" stroke-width="3.4" />
<line x1="884.3" y1="1875.6" x2="1602.6" y2="1875.6" stroke="#000" stroke-width="3.4" />
<line x1="886.0" y1="1875.0" x2="886.0" y2="1892.5" stroke="#222" stroke-width="3" />
<text x="886.0" y="1930.0" font-family="Liberation Sans" font-size="32.24" font-weight="bold" text-anchor="middle" fill="#000" >0</text>
<line x1="1118.5" y1="1875.0" x2="1118.5" y2="1892.5" stroke="#222" stroke-width="3" />
<text x="1117.5" y="1930.0" font-family="Liberation Sans" font-size="32.24" font-weight="bold" text-anchor="middle" fill="#000" >2</text>
<line x1="1351.2" y1="1875.0" x2="1351.2" y2="1892.5" stroke="#222" stroke-width="3" />
<text x="1350.2" y="1930.0" font-family="Liberation Sans" font-size="32.24" font-weight="bold" text-anchor="middle" fill="#000" >4</text>
<line x1="1583.8" y1="1875.0" x2="1583.8" y2="1892.5" stroke="#222" stroke-width="3" />
<text x="1582.8" y="1930.0" font-family="Liberation Sans" font-size="32.24" font-weight="bold" text-anchor="middle" fill="#000" >6</text>
<text x="1001.0" y="1978.0" font-family="Liberation Sans" font-size="39.52" font-weight="bold" textLength="478.0" lengthAdjust="spacingAndGlyphs" fill="#000" >Relative LUC / REN ratio</text>
<path d="M1344.5,1478.8 L1368.7,1478.8 L1368.7,1651 L1344.5,1651" fill="none" stroke="#231815" stroke-width="3"/>
<path d="M1416.4,1415.8 L1440.6,1415.8 L1440.6,1587.4 L1416.4,1587.4" fill="none" stroke="#231815" stroke-width="3"/>
<path d="M1516.6,1342.7 L1540.8,1342.7 L1540.8,1526 L1516.6,1526" fill="none" stroke="#231815" stroke-width="3"/>
<path d="M1630.6,1463.4 L1654.8,1463.4 L1654.8,1771.2 L1630.6,1771.2" fill="none" stroke="#231815" stroke-width="3"/>
<text x="1384.5" y="1587.5" font-family="Liberation Sans" font-size="41.6" font-weight="bold" text-anchor="middle" fill="#000" >*</text>
<text x="1460.5" y="1514.5" font-family="Liberation Sans" font-size="41.6" font-weight="bold" text-anchor="middle" fill="#000" >*</text>
<text x="0.0" y="0.0" font-family="Liberation Sans" font-size="41.6" font-weight="bold" text-anchor="middle" fill="#000" transform="translate(1535.5,1428.5) rotate(90)">**</text>
<text x="0.0" y="0.0" font-family="Liberation Sans" font-size="41.6" font-weight="bold" text-anchor="middle" fill="#000" transform="translate(1655.5,1604) rotate(90)">***</text>
<rect x="1599.7" y="1372.0" width="8.0" height="154.5" fill="#ec7f14" />
<rect x="1599.7" y="1709.8" width="8.0" height="143.0" fill="#5ab0cb" />
</g>

<g id="panelE">
<text x="1717.0" y="1336.0" font-family="Liberation Sans" font-size="62.92" font-weight="bold" fill="#000" >E</text>
<defs><clipPath id="ecl"><rect x="1796" y="1286" width="589" height="557.3"/></clipPath>
<filter id="nz" x="0" y="0" width="100%" height="100%" color-interpolation-filters="sRGB"><feTurbulence type="fractalNoise" baseFrequency="0.11" numOctaves="2" seed="5"/><feColorMatrix type="matrix" values="0.6 0.6 0.6 0 -0.4  0.6 0.6 0.6 0 -0.4  0.6 0.6 0.6 0 -0.4  0 0 0 0 1"/></filter>
<filter id="bl" x="-10%" y="-10%" width="120%" height="120%"><feGaussianBlur stdDeviation="2.3"/></filter><filter id="bl1" x="-10%" y="-10%" width="120%" height="120%"><feGaussianBlur stdDeviation="1"/></filter><clipPath id="ctr"><polygon points="2139.6,1394.9 2151.1,1391.6 2174.1,1394.9 2177.4,1378.5 2188.8,1375.9 2200.3,1383.4 2226.6,1385.0 2249.6,1401.5 2275.8,1409.7 2297.2,1414.6 2308.7,1427.7 2311.9,1450.7 2318.5,1477.0 2321.8,1490.1 2302.1,1498.3 2282.4,1490.1 2266.0,1496.7 2249.6,1506.5 2239.7,1490.1 2226.6,1477.0 2213.5,1467.1 2203.6,1477.0 2200.3,1493.4 2183.9,1506.5 2177.4,1526.2 2167.5,1527.8 2160.9,1503.2 2174.1,1490.1 2187.2,1463.8 2197.1,1444.1 2213.5,1421.2 2206.9,1411.3 2183.9,1406.4 2164.2,1408.0 2144.5,1409.7"/></clipPath><clipPath id="cbl"><polygon points="1987.0,1580.4 2003.4,1578.7 2016.5,1590.2 2024.7,1598.4 2019.8,1611.5 2016.5,1628.0 2032.9,1637.8 2044.4,1644.4 2036.2,1660.8 2019.8,1673.9 2000.1,1678.8 1993.5,1677.2 2016.5,1693.6 2026.4,1706.7 2034.6,1723.2 2032.9,1736.3 2019.8,1737.9 2000.1,1746.1 1987.0,1739.6 1973.8,1744.5 1960.7,1749.4 1947.6,1746.1 1937.7,1733.0 1921.3,1719.9 1914.7,1703.5 1916.4,1687.1 1921.3,1673.9 1914.7,1667.4 1904.9,1650.9 1913.1,1642.7 1924.6,1641.1 1931.2,1654.2 1947.6,1660.8 1967.3,1662.4 1973.8,1647.7 1980.4,1628.0 1977.1,1614.8 1970.5,1603.3 1980.4,1591.9"/></clipPath><clipPath id="cbr"><polygon points="2131.4,1596.8 2144.5,1575.4 2157.7,1565.6 2177.4,1567.2 2193.8,1580.4 2213.5,1582.0 2223.3,1595.1 2243.0,1611.5 2259.4,1624.7 2269.3,1644.4 2270.9,1673.9 2267.6,1700.2 2262.7,1719.9 2249.6,1739.6 2243.0,1752.7 2229.9,1754.3 2213.5,1762.6 2206.9,1769.1 2193.8,1765.8 2177.4,1759.3 2160.9,1749.4 2144.5,1739.6 2128.1,1723.2 2115.0,1716.6 2105.1,1703.5 2098.6,1687.1 2095.3,1664.1 2105.1,1654.2 2118.3,1644.4 2131.4,1628.0 2141.2,1614.8 2146.2,1608.3"/></clipPath><linearGradient id="cb" x1="0" x2="1" y1="0" y2="0"><stop offset="0" stop-color="#51409c"/><stop offset="0.06" stop-color="#2f46a2"/><stop offset="0.18" stop-color="#2456a8"/><stop offset="0.27" stop-color="#2fb3ea"/><stop offset="0.34" stop-color="#6cc3b7"/><stop offset="0.45" stop-color="#6dbd55"/><stop offset="0.58" stop-color="#69b82e"/><stop offset="0.70" stop-color="#a5c935"/><stop offset="0.78" stop-color="#f5e92b"/><stop offset="0.88" stop-color="#f39a1f"/><stop offset="0.96" stop-color="#e3231d"/><stop offset="1" stop-color="#e0151c"/></linearGradient></defs>
<g clip-path="url(#ecl)">
<rect x="1796.0" y="1286.0" width="589.0" height="557.3" fill="#3b3b3b" />
<polygon points="2039.5,1285.9 2090.4,1285.9 2090.4,1362.1 2062.5,1362.7 2049.3,1350.6 2042.8,1319.4" fill="#282828" filter="url(#bl)"/>
<polygon points="2104.2,1285.9 2151.1,1285.9 2146.2,1345.7 2134.7,1366.0 2118.3,1372.2 2105.1,1363.7" fill="#222222" filter="url(#bl)"/>
<polygon points="2090.4,1285.9 2104.2,1285.9 2102.8,1329.2 2102.5,1362.1 2110.1,1369.3 2118.3,1372.2 2149.8,1366.3 2193.1,1362.1 2221.7,1363.4 2239.1,1366.3 2262.0,1377.8 2279.4,1395.2 2296.5,1412.3 2311.0,1429.7 2325.4,1452.7 2336.9,1481.6 2348.4,1510.1 2354.3,1539.0 2358.9,1565.6 2359.5,1591.9 2354.6,1624.7 2344.8,1657.5 2328.4,1687.1 2308.7,1713.3 2282.4,1739.6 2249.6,1765.8 2216.7,1782.2 2183.9,1792.1 2151.1,1798.7 2134.7,1811.8 2134.7,1838.1 2069.0,1838.1 2069.0,1818.4 2052.6,1805.2 2026.4,1798.7 2000.1,1795.4 1973.8,1785.5 1947.6,1769.1 1921.3,1746.1 1898.3,1719.9 1878.6,1693.6 1863.9,1667.4 1852.4,1641.1 1844.2,1614.8 1837.6,1588.6 1836.0,1568.9 1833.0,1539.0 1833.0,1510.1 1836.0,1487.1 1844.8,1464.2 1858.9,1438.2 1876.3,1415.2 1896.4,1395.2 1913.8,1377.8 1933.8,1366.3 1962.7,1360.4 1991.6,1359.1 2020.1,1360.4 2049.0,1363.4 2077.9,1363.4 2090.4,1362.1 2091.3,1329.2" fill="#bcbcbc" />
<polygon points="2090.4,1285.9 2104.2,1285.9 2102.8,1329.2 2101.9,1365.3 2092.7,1365.3 2091.3,1329.2" fill="#a2a2a2" />
<rect x="1796.0" y="1286.0" width="589.0" height="557.3" fill="#808080" filter="url(#nz)" opacity="0.3" style="mix-blend-mode:hard-light"/>
<polyline points="2096.9,1362.1 2095.3,1542.6 2093.6,1772.4" stroke="#dcdcdc" stroke-width="6" fill="none" opacity="0.4"/>
<polyline points="2095.3,1378.5 2019.8,1450.7 1927.9,1529.5 1872.1,1575.4" stroke="#d8d8d8" stroke-width="3" fill="none" opacity="0.2"/>
<polyline points="2095.3,1378.5 2046.0,1404.7 1973.8,1417.9 1898.3,1424.4" stroke="#d8d8d8" stroke-width="3" fill="none" opacity="0.2"/>
<polyline points="2096.9,1378.5 2151.1,1437.6 2216.7,1529.5 2275.8,1624.7" stroke="#d8d8d8" stroke-width="3" fill="none" opacity="0.2"/>
<polyline points="2096.9,1378.5 2118.3,1398.2 2144.5,1450.7" stroke="#d8d8d8" stroke-width="3" fill="none" opacity="0.2"/>
<polyline points="2095.3,1509.8 2039.5,1575.4 1973.8,1657.5" stroke="#d8d8d8" stroke-width="3" fill="none" opacity="0.2"/>
<polyline points="2095.9,1542.6 2167.5,1608.3 2233.2,1693.6" stroke="#d8d8d8" stroke-width="3" fill="none" opacity="0.2"/>
<rect x="2071.8" y="1610.1" width="2.0" height="2.0" fill="#dedede" opacity="0.8"/><rect x="2284.6" y="1446.2" width="2.6" height="2.6" fill="#dedede" opacity="0.8"/><rect x="2157.2" y="1444.6" width="2.0" height="2.0" fill="#ffffff" opacity="0.45"/><rect x="2199.2" y="1380.6" width="2.0" height="2.0" fill="#dedede" opacity="0.8"/><rect x="2223.2" y="1650.2" width="2.6" height="2.6" fill="#e6e6e6" opacity="0.8"/><rect x="2297.5" y="1627.8" width="2.0" height="2.0" fill="#ffffff" opacity="0.6"/><rect x="2145.0" y="1448.6" width="1.6" height="1.6" fill="#ffffff" opacity="0.6"/><rect x="2178.7" y="1542.3" width="2.6" height="2.6" fill="#e6e6e6" opacity="0.8"/><rect x="1966.9" y="1698.0" width="2.6" height="2.6" fill="#ffffff" opacity="0.45"/><rect x="2044.3" y="1737.2" width="2.0" height="2.0" fill="#e6e6e6" opacity="0.45"/><rect x="1943.5" y="1765.5" width="2.0" height="2.0" fill="#dedede" opacity="0.8"/><rect x="2042.7" y="1394.4" width="3.3" height="3.3" fill="#f4f4f4" opacity="0.8"/><rect x="1975.3" y="1400.7" width="2.0" height="2.0" fill="#e6e6e6" opacity="0.6"/><rect x="2233.3" y="1414.4" width="1.6" height="1.6" fill="#e6e6e6" opacity="0.45"/><rect x="1926.6" y="1609.9" width="2.0" height="2.0" fill="#f4f4f4" opacity="0.8"/><rect x="2239.4" y="1547.9" width="2.0" height="2.0" fill="#e6e6e6" opacity="0.6"/><rect x="2055.0" y="1456.4" width="2.0" height="2.0" fill="#ffffff" opacity="0.45"/><rect x="1944.0" y="1536.8" width="2.6" height="2.6" fill="#e6e6e6" opacity="0.45"/><rect x="1969.2" y="1704.5" width="2.0" height="2.0" fill="#ffffff" opacity="0.6"/><rect x="2140.7" y="1469.8" width="2.6" height="2.6" fill="#ffffff" opacity="0.6"/><rect x="2161.5" y="1418.4" width="2.6" height="2.6" fill="#dedede" opacity="0.8"/><rect x="1904.4" y="1533.2" width="3.3" height="3.3" fill="#f4f4f4" opacity="0.6"/><rect x="1964.5" y="1446.2" width="3.3" height="3.3" fill="#f4f4f4" opacity="0.8"/><rect x="2151.6" y="1548.8" width="1.3" height="1.3" fill="#e6e6e6" opacity="0.45"/><rect x="2103.5" y="1475.2" width="3.3" height="3.3" fill="#dedede" opacity="0.6"/><rect x="2055.1" y="1763.0" width="2.0" height="2.0" fill="#ffffff" opacity="0.8"/><rect x="1925.4" y="1681.3" width="1.3" height="1.3" fill="#f4f4f4" opacity="0.45"/><rect x="2086.0" y="1651.7" width="2.6" height="2.6" fill="#e6e6e6" opacity="0.6"/><rect x="2228.5" y="1392.7" width="2.0" height="2.0" fill="#dedede" opacity="0.45"/><rect x="1864.6" y="1440.2" width="2.0" height="2.0" fill="#f4f4f4" opacity="0.45"/><rect x="2024.1" y="1756.9" width="2.0" height="2.0" fill="#f4f4f4" opacity="0.8"/><rect x="2313.7" y="1672.7" width="1.3" height="1.3" fill="#e6e6e6" opacity="0.8"/><rect x="2168.9" y="1575.8" width="3.3" height="3.3" fill="#ffffff" opacity="0.6"/><rect x="1904.9" y="1394.2" width="2.0" height="2.0" fill="#ffffff" opacity="0.8"/><rect x="2222.3" y="1419.5" width="2.0" height="2.0" fill="#ffffff" opacity="0.45"/><rect x="2194.8" y="1761.3" width="2.0" height="2.0" fill="#e6e6e6" opacity="0.6"/><rect x="2135.4" y="1639.0" width="2.0" height="2.0" fill="#dedede" opacity="0.8"/><rect x="1880.6" y="1413.3" width="2.0" height="2.0" fill="#dedede" opacity="0.8"/><rect x="2007.2" y="1776.1" width="3.3" height="3.3" fill="#dedede" opacity="0.6"/><rect x="2077.2" y="1601.9" width="2.6" height="2.6" fill="#e6e6e6" opacity="0.6"/><rect x="2150.5" y="1575.2" width="1.6" height="1.6" fill="#e6e6e6" opacity="0.6"/><rect x="2244.9" y="1654.6" width="2.0" height="2.0" fill="#ffffff" opacity="0.45"/><rect x="2027.1" y="1425.5" width="2.6" height="2.6" fill="#f4f4f4" opacity="0.8"/><rect x="2181.5" y="1557.9" width="1.6" height="1.6" fill="#ffffff" opacity="0.6"/><rect x="2184.6" y="1450.0" width="2.0" height="2.0" fill="#f4f4f4" opacity="0.45"/><rect x="2035.8" y="1620.5" width="2.0" height="2.0" fill="#f4f4f4" opacity="0.45"/><rect x="1903.8" y="1517.5" width="1.3" height="1.3" fill="#e6e6e6" opacity="0.6"/><rect x="2267.0" y="1412.1" width="2.0" height="2.0" fill="#ffffff" opacity="0.45"/><rect x="2271.8" y="1531.6" width="2.6" height="2.6" fill="#dedede" opacity="0.8"/><rect x="1999.4" y="1733.9" width="2.6" height="2.6" fill="#dedede" opacity="0.6"/><rect x="2207.2" y="1614.9" width="2.0" height="2.0" fill="#e6e6e6" opacity="0.8"/><rect x="1904.5" y="1563.6" width="1.3" height="1.3" fill="#ffffff" opacity="0.45"/><rect x="2244.5" y="1715.2" width="3.3" height="3.3" fill="#e6e6e6" opacity="0.6"/><rect x="1890.3" y="1599.3" width="3.3" height="3.3" fill="#ffffff" opacity="0.45"/><rect x="2194.4" y="1450.4" width="2.0" height="2.0" fill="#ffffff" opacity="0.45"/><rect x="2210.1" y="1696.7" width="2.6" height="2.6" fill="#e6e6e6" opacity="0.45"/><rect x="1952.4" y="1707.1" width="2.6" height="2.6" fill="#f4f4f4" opacity="0.6"/><rect x="2281.3" y="1672.2" width="1.6" height="1.6" fill="#e6e6e6" opacity="0.6"/><rect x="2325.6" y="1682.2" width="1.6" height="1.6" fill="#dedede" opacity="0.6"/><rect x="1936.7" y="1755.3" width="1.3" height="1.3" fill="#dedede" opacity="0.8"/><rect x="2133.3" y="1751.7" width="2.0" height="2.0" fill="#dedede" opacity="0.6"/><rect x="2176.9" y="1452.9" width="3.3" height="3.3" fill="#e6e6e6" opacity="0.45"/><rect x="1960.7" y="1535.0" width="1.3" height="1.3" fill="#ffffff" opacity="0.8"/><rect x="1971.1" y="1680.4" width="1.3" height="1.3" fill="#ffffff" opacity="0.8"/><rect x="1876.4" y="1557.5" width="2.6" height="2.6" fill="#dedede" opacity="0.6"/><rect x="2090.3" y="1374.7" width="1.3" height="1.3" fill="#dedede" opacity="0.45"/><rect x="1924.1" y="1510.5" width="1.6" height="1.6" fill="#dedede" opacity="0.45"/><rect x="2106.6" y="1662.5" width="2.0" height="2.0" fill="#dedede" opacity="0.8"/><rect x="1949.7" y="1595.5" width="2.0" height="2.0" fill="#f4f4f4" opacity="0.8"/><rect x="2104.4" y="1764.1" width="2.0" height="2.0" fill="#ffffff" opacity="0.8"/><rect x="2034.2" y="1736.7" width="2.6" height="2.6" fill="#f4f4f4" opacity="0.6"/><rect x="2109.7" y="1616.0" width="1.6" height="1.6" fill="#dedede" opacity="0.8"/><rect x="2031.9" y="1600.6" width="1.3" height="1.3" fill="#dedede" opacity="0.8"/><rect x="2256.0" y="1611.5" width="2.0" height="2.0" fill="#e6e6e6" opacity="0.8"/><rect x="2075.2" y="1770.1" width="2.0" height="2.0" fill="#ffffff" opacity="0.45"/><rect x="2082.7" y="1418.3" width="2.0" height="2.0" fill="#dedede" opacity="0.8"/><rect x="2000.3" y="1446.9" width="2.6" height="2.6" fill="#e6e6e6" opacity="0.6"/><rect x="1901.1" y="1707.4" width="1.3" height="1.3" fill="#e6e6e6" opacity="0.45"/><rect x="1982.8" y="1682.7" width="1.6" height="1.6" fill="#dedede" opacity="0.45"/><rect x="2096.8" y="1620.1" width="2.6" height="2.6" fill="#ffffff" opacity="0.8"/><rect x="1937.2" y="1597.1" width="2.0" height="2.0" fill="#e6e6e6" opacity="0.6"/><rect x="2167.2" y="1727.8" width="2.6" height="2.6" fill="#f4f4f4" opacity="0.8"/><rect x="1940.6" y="1641.8" width="3.3" height="3.3" fill="#f4f4f4" opacity="0.8"/><rect x="1946.9" y="1602.7" width="2.6" height="2.6" fill="#f4f4f4" opacity="0.45"/><rect x="2316.2" y="1640.3" width="2.0" height="2.0" fill="#f4f4f4" opacity="0.6"/><rect x="2151.4" y="1756.8" width="1.6" height="1.6" fill="#f4f4f4" opacity="0.45"/><rect x="2301.7" y="1421.4" width="1.6" height="1.6" fill="#f4f4f4" opacity="0.8"/><rect x="1879.3" y="1534.0" width="2.0" height="2.0" fill="#dedede" opacity="0.8"/><rect x="2250.2" y="1417.9" width="2.0" height="2.0" fill="#e6e6e6" opacity="0.45"/><rect x="1938.9" y="1664.5" width="2.0" height="2.0" fill="#e6e6e6" opacity="0.8"/><rect x="2099.9" y="1698.1" width="2.6" height="2.6" fill="#f4f4f4" opacity="0.45"/><rect x="2087.5" y="1372.8" width="2.6" height="2.6" fill="#dedede" opacity="0.45"/><rect x="1932.9" y="1413.0" width="1.6" height="1.6" fill="#f4f4f4" opacity="0.6"/><rect x="2076.9" y="1701.0" width="2.0" height="2.0" fill="#dedede" opacity="0.6"/><rect x="2058.1" y="1519.2" width="1.6" height="1.6" fill="#ffffff" opacity="0.45"/><rect x="2167.8" y="1380.2" width="1.6" height="1.6" fill="#f4f4f4" opacity="0.6"/><rect x="2072.6" y="1689.7" width="2.0" height="2.0" fill="#f4f4f4" opacity="0.8"/><rect x="1919.9" y="1589.2" width="1.3" height="1.3" fill="#ffffff" opacity="0.45"/><rect x="2256.4" y="1674.3" width="3.3" height="3.3" fill="#dedede" opacity="0.8"/><rect x="2149.6" y="1585.5" width="2.0" height="2.0" fill="#ffffff" opacity="0.6"/><rect x="2314.3" y="1692.0" width="1.6" height="1.6" fill="#dedede" opacity="0.45"/><rect x="2199.9" y="1702.1" width="1.6" height="1.6" fill="#dedede" opacity="0.45"/><rect x="2214.6" y="1393.3" width="2.0" height="2.0" fill="#ffffff" opacity="0.6"/><rect x="1858.9" y="1483.0" width="3.3" height="3.3" fill="#ffffff" opacity="0.6"/><rect x="1946.9" y="1542.0" width="1.6" height="1.6" fill="#e6e6e6" opacity="0.6"/><rect x="2104.7" y="1582.6" width="1.6" height="1.6" fill="#e6e6e6" opacity="0.6"/><rect x="2157.9" y="1689.5" width="2.0" height="2.0" fill="#dedede" opacity="0.6"/><rect x="2099.4" y="1699.4" width="3.3" height="3.3" fill="#dedede" opacity="0.45"/><rect x="1884.7" y="1473.3" width="2.0" height="2.0" fill="#dedede" opacity="0.8"/><rect x="2132.9" y="1803.1" width="3.3" height="3.3" fill="#dedede" opacity="0.8"/><rect x="1872.9" y="1626.9" width="1.3" height="1.3" fill="#dedede" opacity="0.45"/><rect x="2036.6" y="1792.0" width="2.0" height="2.0" fill="#e6e6e6" opacity="0.6"/><rect x="2332.3" y="1548.5" width="2.6" height="2.6" fill="#dedede" opacity="0.8"/><rect x="1997.8" y="1597.1" width="2.0" height="2.0" fill="#ffffff" opacity="0.8"/><rect x="2323.9" y="1656.1" width="3.3" height="3.3" fill="#ffffff" opacity="0.45"/><rect x="2231.5" y="1534.9" width="2.0" height="2.0" fill="#dedede" opacity="0.45"/><rect x="2140.1" y="1682.5" width="2.0" height="2.0" fill="#e6e6e6" opacity="0.45"/><rect x="2059.7" y="1573.7" width="1.6" height="1.6" fill="#e6e6e6" opacity="0.8"/><rect x="2206.0" y="1384.4" width="2.0" height="2.0" fill="#dedede" opacity="0.45"/><rect x="1940.3" y="1385.1" width="2.6" height="2.6" fill="#f4f4f4" opacity="0.45"/><rect x="2024.7" y="1424.0" width="2.0" height="2.0" fill="#dedede" opacity="0.8"/><rect x="1971.2" y="1620.1" width="2.0" height="2.0" fill="#ffffff" opacity="0.8"/><rect x="2113.2" y="1804.2" width="2.0" height="2.0" fill="#f4f4f4" opacity="0.45"/><rect x="2086.9" y="1585.0" width="2.0" height="2.0" fill="#ffffff" opacity="0.6"/><rect x="1976.2" y="1665.6" width="2.6" height="2.6" fill="#f4f4f4" opacity="0.8"/><rect x="1979.9" y="1468.2" width="1.6" height="1.6" fill="#f4f4f4" opacity="0.8"/><rect x="1975.9" y="1550.5" width="2.6" height="2.6" fill="#e6e6e6" opacity="0.45"/><rect x="1950.3" y="1485.4" width="1.3" height="1.3" fill="#f4f4f4" opacity="0.8"/><rect x="2088.5" y="1519.0" width="2.0" height="2.0" fill="#ffffff" opacity="0.6"/><rect x="2226.3" y="1733.7" width="1.3" height="1.3" fill="#e6e6e6" opacity="0.6"/><rect x="2260.3" y="1638.5" width="1.6" height="1.6" fill="#dedede" opacity="0.6"/><rect x="2227.6" y="1535.0" width="1.6" height="1.6" fill="#ffffff" opacity="0.45"/><rect x="2004.6" y="1605.2" width="3.3" height="3.3" fill="#f4f4f4" opacity="0.6"/><rect x="2178.2" y="1619.4" width="2.0" height="2.0" fill="#ffffff" opacity="0.45"/><rect x="2120.0" y="1553.5" width="2.6" height="2.6" fill="#dedede" opacity="0.8"/><rect x="2077.6" y="1727.0" width="1.3" height="1.3" fill="#e6e6e6" opacity="0.6"/><rect x="1945.4" y="1655.5" width="1.3" height="1.3" fill="#ffffff" opacity="0.6"/><rect x="2215.8" y="1669.6" width="2.0" height="2.0" fill="#f4f4f4" opacity="0.45"/><rect x="2021.8" y="1683.8" width="2.0" height="2.0" fill="#e6e6e6" opacity="0.6"/><rect x="2207.5" y="1614.3" width="3.3" height="3.3" fill="#ffffff" opacity="0.6"/><rect x="2112.9" y="1801.8" width="2.0" height="2.0" fill="#ffffff" opacity="0.45"/><rect x="2043.9" y="1776.3" width="2.6" height="2.6" fill="#f4f4f4" opacity="0.45"/><rect x="2023.8" y="1524.1" width="2.0" height="2.0" fill="#dedede" opacity="0.8"/><rect x="2037.5" y="1448.5" width="2.6" height="2.6" fill="#ffffff" opacity="0.6"/><rect x="2118.4" y="1732.7" width="2.6" height="2.6" fill="#f4f4f4" opacity="0.45"/><rect x="1880.1" y="1563.4" width="2.0" height="2.0" fill="#e6e6e6" opacity="0.45"/><rect x="2105.2" y="1603.2" width="2.6" height="2.6" fill="#ffffff" opacity="0.45"/><rect x="2176.8" y="1718.5" width="1.3" height="1.3" fill="#ffffff" opacity="0.8"/><rect x="2222.2" y="1760.5" width="1.3" height="1.3" fill="#e6e6e6" opacity="0.8"/><rect x="2178.1" y="1405.3" width="3.3" height="3.3" fill="#dedede" opacity="0.45"/><rect x="2209.1" y="1578.8" width="2.6" height="2.6" fill="#ffffff" opacity="0.6"/><rect x="2041.1" y="1511.8" width="2.0" height="2.0" fill="#f4f4f4" opacity="0.6"/><rect x="2090.6" y="1718.7" width="1.3" height="1.3" fill="#e6e6e6" opacity="0.6"/><rect x="2017.2" y="1363.8" width="2.0" height="2.0" fill="#e6e6e6" opacity="0.6"/><rect x="2338.9" y="1645.8" width="2.6" height="2.6" fill="#ffffff" opacity="0.8"/><rect x="1962.5" y="1434.0" width="3.3" height="3.3" fill="#dedede" opacity="0.8"/><rect x="1921.3" y="1452.6" width="2.0" height="2.0" fill="#ffffff" opacity="0.6"/><rect x="1995.7" y="1412.9" width="3.3" height="3.3" fill="#f4f4f4" opacity="0.45"/><rect x="2314.8" y="1695.8" width="1.3" height="1.3" fill="#dedede" opacity="0.45"/><rect x="1997.9" y="1449.6" width="2.0" height="2.0" fill="#f4f4f4" opacity="0.8"/><rect x="1957.1" y="1679.9" width="2.6" height="2.6" fill="#f4f4f4" opacity="0.6"/><rect x="1930.4" y="1486.6" width="1.6" height="1.6" fill="#ffffff" opacity="0.8"/><rect x="2122.4" y="1724.2" width="2.0" height="2.0" fill="#ffffff" opacity="0.6"/><rect x="2013.5" y="1604.6" width="1.3" height="1.3" fill="#dedede" opacity="0.45"/><rect x="2043.8" y="1458.4" width="1.6" height="1.6" fill="#dedede" opacity="0.8"/><rect x="2252.7" y="1705.1" width="1.3" height="1.3" fill="#f4f4f4" opacity="0.45"/><rect x="2070.5" y="1471.3" width="2.0" height="2.0" fill="#f4f4f4" opacity="0.6"/><rect x="1915.6" y="1504.7" width="2.0" height="2.0" fill="#f4f4f4" opacity="0.8"/><rect x="2224.7" y="1636.6" width="2.6" height="2.6" fill="#e6e6e6" opacity="0.45"/><rect x="2134.9" y="1441.1" width="1.6" height="1.6" fill="#f4f4f4" opacity="0.45"/><rect x="1876.2" y="1481.7" width="3.3" height="3.3" fill="#e6e6e6" opacity="0.6"/><rect x="2199.3" y="1398.8" width="3.3" height="3.3" fill="#ffffff" opacity="0.45"/><rect x="2249.8" y="1546.9" width="3.3" height="3.3" fill="#e6e6e6" opacity="0.6"/><rect x="1942.8" y="1602.9" width="2.6" height="2.6" fill="#dedede" opacity="0.45"/><rect x="1999.7" y="1541.8" width="2.6" height="2.6" fill="#ffffff" opacity="0.6"/><rect x="2185.3" y="1391.8" width="1.3" height="1.3" fill="#f4f4f4" opacity="0.45"/><rect x="2185.5" y="1661.6" width="3.3" height="3.3" fill="#e6e6e6" opacity="0.8"/><rect x="2068.0" y="1744.8" width="3.3" height="3.3" fill="#dedede" opacity="0.45"/><rect x="1987.8" y="1412.3" width="1.3" height="1.3" fill="#f4f4f4" opacity="0.8"/><rect x="1913.1" y="1640.3" width="2.6" height="2.6" fill="#ffffff" opacity="0.6"/><rect x="2231.7" y="1608.3" width="1.3" height="1.3" fill="#ffffff" opacity="0.45"/><rect x="1938.3" y="1686.2" width="2.0" height="2.0" fill="#ffffff" opacity="0.6"/><rect x="2130.1" y="1682.8" width="2.0" height="2.0" fill="#dedede" opacity="0.6"/><rect x="1881.4" y="1424.5" width="1.3" height="1.3" fill="#f4f4f4" opacity="0.8"/><rect x="2165.8" y="1441.5" width="1.6" height="1.6" fill="#dedede" opacity="0.45"/><rect x="2275.0" y="1624.7" width="1.3" height="1.3" fill="#e6e6e6" opacity="0.45"/><rect x="2062.0" y="1703.8" width="2.0" height="2.0" fill="#dedede" opacity="0.8"/><rect x="1906.2" y="1453.1" width="1.6" height="1.6" fill="#dedede" opacity="0.6"/><rect x="2007.8" y="1544.7" width="1.3" height="1.3" fill="#dedede" opacity="0.8"/><rect x="2250.0" y="1654.7" width="2.6" height="2.6" fill="#e6e6e6" opacity="0.6"/><rect x="2007.6" y="1513.7" width="3.3" height="3.3" fill="#dedede" opacity="0.45"/><rect x="2127.2" y="1452.9" width="2.0" height="2.0" fill="#ffffff" opacity="0.45"/><rect x="2155.8" y="1432.2" width="2.6" height="2.6" fill="#ffffff" opacity="0.8"/><rect x="1956.3" y="1633.3" width="2.6" height="2.6" fill="#f4f4f4" opacity="0.8"/><rect x="2105.4" y="1679.1" width="1.6" height="1.6" fill="#e6e6e6" opacity="0.8"/><rect x="2181.2" y="1706.2" width="1.6" height="1.6" fill="#f4f4f4" opacity="0.6"/><rect x="2137.4" y="1671.0" width="2.0" height="2.0" fill="#e6e6e6" opacity="0.6"/><rect x="1973.3" y="1753.4" width="2.0" height="2.0" fill="#f4f4f4" opacity="0.45"/><rect x="2310.5" y="1602.9" width="2.6" height="2.6" fill="#e6e6e6" opacity="0.8"/><rect x="2226.8" y="1759.6" width="2.0" height="2.0" fill="#f4f4f4" opacity="0.45"/><rect x="2194.7" y="1523.2" width="2.6" height="2.6" fill="#ffffff" opacity="0.45"/><rect x="1930.8" y="1604.9" width="1.3" height="1.3" fill="#dedede" opacity="0.45"/><rect x="2045.9" y="1708.9" width="3.3" height="3.3" fill="#f4f4f4" opacity="0.6"/><rect x="2232.3" y="1737.6" width="2.0" height="2.0" fill="#e6e6e6" opacity="0.45"/><rect x="1938.1" y="1569.5" width="1.6" height="1.6" fill="#dedede" opacity="0.45"/><rect x="2133.7" y="1439.0" width="2.6" height="2.6" fill="#f4f4f4" opacity="0.6"/><rect x="1961.7" y="1775.0" width="1.3" height="1.3" fill="#e6e6e6" opacity="0.8"/><rect x="2187.3" y="1426.2" width="2.0" height="2.0" fill="#e6e6e6" opacity="0.6"/><rect x="2015.2" y="1759.4" width="3.3" height="3.3" fill="#dedede" opacity="0.6"/><rect x="2089.4" y="1802.8" width="3.3" height="3.3" fill="#dedede" opacity="0.6"/><rect x="1894.7" y="1412.9" width="2.6" height="2.6" fill="#ffffff" opacity="0.8"/><rect x="2107.9" y="1548.3" width="1.3" height="1.3" fill="#ffffff" opacity="0.45"/><rect x="1989.1" y="1635.1" width="2.0" height="2.0" fill="#dedede" opacity="0.8"/><rect x="2002.8" y="1712.0" width="2.6" height="2.6" fill="#e6e6e6" opacity="0.45"/><rect x="1898.4" y="1560.1" width="2.6" height="2.6" fill="#dedede" opacity="0.45"/><rect x="2084.1" y="1408.8" width="1.6" height="1.6" fill="#ffffff" opacity="0.8"/><rect x="2041.7" y="1466.6" width="1.3" height="1.3" fill="#ffffff" opacity="0.8"/><rect x="2055.4" y="1718.9" width="1.6" height="1.6" fill="#dedede" opacity="0.8"/><rect x="2107.3" y="1419.7" width="2.6" height="2.6" fill="#dedede" opacity="0.45"/><rect x="1989.2" y="1684.8" width="1.3" height="1.3" fill="#ffffff" opacity="0.45"/><rect x="2263.6" y="1538.1" width="2.0" height="2.0" fill="#f4f4f4" opacity="0.45"/><rect x="1994.5" y="1563.6" width="2.0" height="2.0" fill="#ffffff" opacity="0.6"/><rect x="2096.1" y="1776.0" width="2.0" height="2.0" fill="#f4f4f4" opacity="0.45"/><rect x="1988.8" y="1770.9" width="1.3" height="1.3" fill="#f4f4f4" opacity="0.6"/><rect x="2275.5" y="1519.0" width="2.0" height="2.0" fill="#e6e6e6" opacity="0.45"/><rect x="2168.5" y="1671.4" width="2.6" height="2.6" fill="#f4f4f4" opacity="0.8"/><rect x="2166.9" y="1446.9" width="1.3" height="1.3" fill="#e6e6e6" opacity="0.6"/><rect x="2216.3" y="1500.8" width="2.0" height="2.0" fill="#dedede" opacity="0.8"/><rect x="2297.2" y="1510.5" width="2.0" height="2.0" fill="#dedede" opacity="0.45"/><rect x="1922.2" y="1743.9" width="1.3" height="1.3" fill="#f4f4f4" opacity="0.6"/><rect x="1928.3" y="1466.4" width="3.3" height="3.3" fill="#ffffff" opacity="0.6"/><rect x="2029.6" y="1655.4" width="1.3" height="1.3" fill="#f4f4f4" opacity="0.6"/><rect x="2305.9" y="1442.1" width="1.6" height="1.6" fill="#ffffff" opacity="0.45"/><rect x="2170.9" y="1401.9" width="1.3" height="1.3" fill="#dedede" opacity="0.8"/><rect x="2116.6" y="1549.7" width="2.6" height="2.6" fill="#e6e6e6" opacity="0.45"/><rect x="1983.4" y="1697.0" width="1.6" height="1.6" fill="#f4f4f4" opacity="0.6"/><rect x="2220.7" y="1374.8" width="1.6" height="1.6" fill="#e6e6e6" opacity="0.8"/><rect x="2076.7" y="1694.7" width="2.0" height="2.0" fill="#e6e6e6" opacity="0.6"/><rect x="2243.2" y="1765.2" width="2.0" height="2.0" fill="#dedede" opacity="0.45"/><rect x="2105.8" y="1586.1" width="3.3" height="3.3" fill="#f4f4f4" opacity="0.8"/><rect x="2244.7" y="1435.3" width="2.6" height="2.6" fill="#dedede" opacity="0.45"/><rect x="2186.0" y="1604.8" width="2.0" height="2.0" fill="#f4f4f4" opacity="0.6"/><rect x="2091.2" y="1460.1" width="2.6" height="2.6" fill="#dedede" opacity="0.6"/><rect x="1851.3" y="1626.6" width="3.3" height="3.3" fill="#e6e6e6" opacity="0.8"/><rect x="2069.6" y="1752.3" width="2.0" height="2.0" fill="#f4f4f4" opacity="0.8"/><rect x="1842.1" y="1581.9" width="2.0" height="2.0" fill="#dedede" opacity="0.8"/><rect x="1971.6" y="1715.9" width="1.3" height="1.3" fill="#e6e6e6" opacity="0.45"/><rect x="2133.3" y="1602.8" width="3.3" height="3.3" fill="#f4f4f4" opacity="0.8"/><rect x="1910.0" y="1499.9" width="1.3" height="1.3" fill="#ffffff" opacity="0.8"/><rect x="2223.0" y="1708.0" width="2.6" height="2.6" fill="#dedede" opacity="0.45"/><rect x="2176.2" y="1588.3" width="2.0" height="2.0" fill="#ffffff" opacity="0.45"/><rect x="1917.1" y="1668.1" width="2.6" height="2.6" fill="#dedede" opacity="0.45"/><rect x="1999.6" y="1569.0" width="3.3" height="3.3" fill="#f4f4f4" opacity="0.8"/><rect x="2091.4" y="1699.4" width="1.6" height="1.6" fill="#f4f4f4" opacity="0.8"/><rect x="2073.3" y="1692.2" width="1.3" height="1.3" fill="#e6e6e6" opacity="0.45"/><rect x="2049.3" y="1595.0" width="1.3" height="1.3" fill="#dedede" opacity="0.8"/><rect x="1990.2" y="1550.2" width="1.3" height="1.3" fill="#e6e6e6" opacity="0.8"/><rect x="2220.6" y="1463.9" width="2.0" height="2.0" fill="#e6e6e6" opacity="0.8"/><rect x="2284.7" y="1547.5" width="1.3" height="1.3" fill="#f4f4f4" opacity="0.6"/><rect x="1995.9" y="1781.5" width="2.6" height="2.6" fill="#f4f4f4" opacity="0.45"/>
<circle cx="1922.9" cy="1483.5" r="3.6" fill="#8e8e8e"/>
<circle cx="1975.5" cy="1480.9" r="3.6" fill="#8e8e8e"/>
<circle cx="2093.6" cy="1546.6" r="3.6" fill="#8e8e8e"/>
<circle cx="2213.5" cy="1490.1" r="3.6" fill="#8e8e8e"/>
<circle cx="2259.4" cy="1509.8" r="3.6" fill="#8e8e8e"/>
<rect x="2381.7" y="1670.0" width="2" height="2" fill="#7a7a7a" opacity="0.7"/><rect x="2316.8" y="1752.1" width="2" height="2" fill="#7a7a7a" opacity="0.7"/><rect x="1900.3" y="1723.9" width="2" height="2" fill="#7a7a7a" opacity="0.7"/><rect x="2346.8" y="1439.5" width="2" height="2" fill="#7a7a7a" opacity="0.7"/><rect x="1829.6" y="1665.9" width="2" height="2" fill="#7a7a7a" opacity="0.7"/><rect x="1866.1" y="1784.6" width="2" height="2" fill="#7a7a7a" opacity="0.7"/><rect x="2314.2" y="1712.8" width="2" height="2" fill="#7a7a7a" opacity="0.7"/>
<g filter="url(#bl1)"><polygon points="2139.6,1394.9 2151.1,1391.6 2174.1,1394.9 2177.4,1378.5 2188.8,1375.9 2200.3,1383.4 2226.6,1385.0 2249.6,1401.5 2275.8,1409.7 2297.2,1414.6 2308.7,1427.7 2311.9,1450.7 2318.5,1477.0 2321.8,1490.1 2302.1,1498.3 2282.4,1490.1 2266.0,1496.7 2249.6,1506.5 2239.7,1490.1 2226.6,1477.0 2213.5,1467.1 2203.6,1477.0 2200.3,1493.4 2183.9,1506.5 2177.4,1526.2 2167.5,1527.8 2160.9,1503.2 2174.1,1490.1 2187.2,1463.8 2197.1,1444.1 2213.5,1421.2 2206.9,1411.3 2183.9,1406.4 2164.2,1408.0 2144.5,1409.7" fill="#2a40a2" />
<circle cx="2267.6" cy="1531.1" r="4.3" fill="#2a40a2"/>
<circle cx="2282.4" cy="1537.7" r="2.3" fill="#2a40a2"/>
<circle cx="2289.0" cy="1544.3" r="2.0" fill="#2a40a2"/>
<circle cx="2280.8" cy="1547.5" r="2.0" fill="#2a40a2"/>
<circle cx="2272.6" cy="1534.4" r="2.6" fill="#2a40a2"/>
</g>
<g clip-path="url(#ctr)"><g filter="url(#bl)"><polygon points="2216.7,1404.7 2256.1,1411.3 2302.1,1417.9 2315.2,1450.7 2315.2,1490.1 2275.8,1490.1 2249.6,1483.5 2226.6,1463.8 2216.7,1437.6" fill="#2c5fbe" />
<polygon points="2246.3,1427.7 2266.0,1419.5 2295.5,1422.8 2305.4,1437.6 2308.7,1463.8 2311.9,1483.5 2295.5,1490.1 2285.7,1477.0 2289.0,1457.3 2272.6,1463.8 2259.4,1477.0 2249.6,1470.4 2256.1,1450.7" fill="#3db4e2" />
<polygon points="2252.9,1434.3 2269.3,1424.4 2292.2,1426.1 2300.5,1437.6 2292.2,1450.7 2275.8,1454.0 2262.7,1463.8 2259.4,1450.7" fill="#74c043" />
<circle cx="2185.6" cy="1385.0" r="4.9" fill="#3db4e2"/>
<circle cx="2211.8" cy="1396.5" r="6.9" fill="#3db4e2"/>
<circle cx="2200.3" cy="1490.1" r="6.6" fill="#2f7fd0"/>
<circle cx="2292.2" cy="1485.2" r="5.9" fill="#3db4e2"/>
<circle cx="2177.4" cy="1503.2" r="5.9" fill="#2c5fbe"/>
</g></g>
<circle cx="2233.2" cy="1444.1" r="4.3" fill="#8a8a9a"/>
<g filter="url(#bl1)"><polygon points="1987.0,1580.4 2003.4,1578.7 2016.5,1590.2 2024.7,1598.4 2019.8,1611.5 2016.5,1628.0 2032.9,1637.8 2044.4,1644.4 2036.2,1660.8 2019.8,1673.9 2000.1,1678.8 1993.5,1677.2 2016.5,1693.6 2026.4,1706.7 2034.6,1723.2 2032.9,1736.3 2019.8,1737.9 2000.1,1746.1 1987.0,1739.6 1973.8,1744.5 1960.7,1749.4 1947.6,1746.1 1937.7,1733.0 1921.3,1719.9 1914.7,1703.5 1916.4,1687.1 1921.3,1673.9 1914.7,1667.4 1904.9,1650.9 1913.1,1642.7 1924.6,1641.1 1931.2,1654.2 1947.6,1660.8 1967.3,1662.4 1973.8,1647.7 1980.4,1628.0 1977.1,1614.8 1970.5,1603.3 1980.4,1591.9" fill="#2a40a2" />
<polygon points="1929.5,1626.3 1936.1,1618.1 1950.9,1618.1 1952.5,1626.3 1945.9,1632.9 1942.6,1642.7 1936.1,1641.1 1934.4,1631.2" fill="#2a40a2" />
</g>
<g clip-path="url(#cbl)"><g filter="url(#bl)"><polygon points="1914.7,1683.8 1944.3,1670.6 1973.8,1667.4 2000.1,1683.8 2026.4,1706.7 2034.6,1736.3 1947.6,1746.1 1914.7,1706.7" fill="#2c5fbe" />
<polygon points="1921.3,1696.9 1934.4,1690.3 1947.6,1687.1 1960.7,1678.8 1977.1,1675.6 1987.0,1683.8 2003.4,1693.6 2016.5,1703.5 2024.7,1719.9 2019.8,1733.0 2000.1,1739.6 1987.0,1734.6 1970.5,1739.6 1954.1,1744.5 1944.3,1736.3 1931.2,1719.9 1919.7,1706.7" fill="#3db4e2" />
<polygon points="1931.2,1706.7 1947.6,1696.9 1964.0,1685.4 1978.8,1682.1 1990.2,1693.6 2006.7,1703.5 2014.9,1716.6 2009.9,1728.1 1993.5,1733.0 1983.7,1728.1 1970.5,1734.6 1954.1,1739.6 1947.6,1729.7 1937.7,1718.2" fill="#74c043" />
<polygon points="1967.3,1693.6 1977.1,1687.1 1990.2,1696.9 1991.9,1710.0 1985.3,1718.2 1977.1,1710.0 1968.9,1703.5" fill="#f4e72a" />
<circle cx="1985.3" cy="1649.3" r="4.9" fill="#3db4e2"/>
<circle cx="1921.3" cy="1664.1" r="3.9" fill="#3db4e2"/>
<circle cx="1942.6" cy="1677.2" r="4.6" fill="#3db4e2"/>
<circle cx="1959.1" cy="1734.6" r="4.3" fill="#f4e72a"/>
</g></g>
<g filter="url(#bl1)"><polygon points="1973.8,1694.3 1980.4,1692.0 1987.0,1701.8 1987.0,1711.7 1982.0,1713.3 1977.1,1705.1" fill="#e31a1c" />
</g>
<g filter="url(#bl1)"><polygon points="2131.4,1596.8 2144.5,1575.4 2157.7,1565.6 2177.4,1567.2 2193.8,1580.4 2213.5,1582.0 2223.3,1595.1 2243.0,1611.5 2259.4,1624.7 2269.3,1644.4 2270.9,1673.9 2267.6,1700.2 2262.7,1719.9 2249.6,1739.6 2243.0,1752.7 2229.9,1754.3 2213.5,1762.6 2206.9,1769.1 2193.8,1765.8 2177.4,1759.3 2160.9,1749.4 2144.5,1739.6 2128.1,1723.2 2115.0,1716.6 2105.1,1703.5 2098.6,1687.1 2095.3,1664.1 2105.1,1654.2 2118.3,1644.4 2131.4,1628.0 2141.2,1614.8 2146.2,1608.3" fill="#2a40a2" />
</g>
<g clip-path="url(#cbr)"><g filter="url(#bl)"><polygon points="2098.6,1657.5 2138.0,1628.0 2183.9,1634.5 2226.6,1628.0 2262.7,1637.8 2266.0,1706.7 2243.0,1752.7 2183.9,1762.6 2118.3,1719.9 2098.6,1687.1" fill="#2c5fbe" />
<polygon points="2101.9,1664.1 2115.0,1650.9 2134.7,1641.1 2164.2,1639.5 2177.4,1654.2 2183.9,1673.9 2203.6,1670.6 2216.7,1657.5 2229.9,1647.7 2243.0,1641.1 2256.1,1644.4 2259.4,1673.9 2249.6,1700.2 2236.4,1716.6 2239.7,1739.6 2226.6,1747.8 2210.2,1756.0 2190.5,1760.9 2174.1,1752.7 2154.4,1742.9 2134.7,1729.7 2118.3,1713.3 2106.8,1696.9 2101.9,1680.5" fill="#3db4e2" />
<polygon points="2118.3,1667.4 2131.4,1650.9 2151.1,1642.7 2167.5,1644.4 2174.1,1660.8 2167.5,1680.5 2154.4,1690.3 2160.9,1703.5 2177.4,1706.7 2197.1,1703.5 2213.5,1706.7 2223.3,1719.9 2229.9,1736.3 2216.7,1746.1 2200.3,1752.7 2180.6,1752.7 2160.9,1739.6 2144.5,1729.7 2124.8,1716.6 2115.0,1703.5 2121.5,1690.3 2118.3,1677.2" fill="#74c043" />
<polygon points="2180.6,1660.8 2200.3,1657.5 2213.5,1673.9 2206.9,1693.6 2190.5,1700.2 2179.0,1683.8" fill="#2b55b5" />
<polygon points="2216.7,1677.2 2233.2,1667.4 2243.0,1683.8 2233.2,1703.5 2220.0,1696.9" fill="#2b55b5" />
<circle cx="2141.2" cy="1692.0" r="11.2" fill="#3db4e2"/>
<circle cx="2141.2" cy="1692.0" r="4.9" fill="#2f6fc5"/>
<circle cx="2197.1" cy="1683.8" r="4.9" fill="#3db4e2"/>
<circle cx="2226.6" cy="1687.1" r="4.9" fill="#3db4e2"/>
<polygon points="2147.8,1582.0 2160.9,1570.5 2175.7,1573.8 2180.6,1588.6 2177.4,1608.3 2164.2,1611.5 2151.1,1605.0 2144.5,1591.9" fill="#3db4e2" />
<polygon points="2154.4,1585.3 2164.2,1577.1 2174.1,1582.0 2175.7,1600.1 2164.2,1606.6 2154.4,1598.4" fill="#74c043" />
<polygon points="2244.6,1647.7 2252.9,1641.1 2256.1,1660.8 2249.6,1673.9 2243.7,1667.4" fill="#74c043" />
<polygon points="2192.1,1733.0 2203.6,1729.7 2208.5,1739.6 2205.3,1756.0 2192.1,1757.6 2188.8,1746.1" fill="#f4e72a" />
</g></g>
<g filter="url(#bl1)"><polygon points="2195.4,1734.6 2203.0,1733.0 2204.3,1742.9 2198.7,1746.1 2194.4,1741.2" fill="#e31a1c" />
</g>
<circle cx="2167.5" cy="1624.0" r="5.9" fill="#a8a8a8"/>
<polygon points="2192.1,1614.8 2213.5,1614.8 2216.7,1631.2 2206.9,1637.8 2193.8,1632.9" fill="#a8a8a8" />
<rect x="2082.6" y="1287.0" width="4.8" height="32.4" fill="#000" />
<rect x="2082.6" y="1337.5" width="4.8" height="39.4" fill="#000" />
<rect x="2082.6" y="1404.8" width="4.8" height="39.4" fill="#000" />
<rect x="2082.6" y="1473.7" width="4.8" height="39.3" fill="#000" />
<rect x="2082.6" y="1541.0" width="4.8" height="39.4" fill="#000" />
<rect x="2082.6" y="1610.0" width="4.8" height="39.4" fill="#000" />
<rect x="2082.6" y="1677.3" width="4.8" height="39.4" fill="#000" />
<rect x="2082.6" y="1746.2" width="4.8" height="39.4" fill="#000" />
<rect x="2082.6" y="1813.6" width="4.8" height="29.7" fill="#000" />
<rect x="1798.0" y="1550.2" width="14.3" height="4.6" fill="#000" />
<rect x="1849.0" y="1550.2" width="37.8" height="4.6" fill="#000" />
<rect x="1913.0" y="1550.2" width="37.8" height="4.6" fill="#000" />
<rect x="1977.0" y="1550.2" width="37.8" height="4.6" fill="#000" />
<rect x="2041.0" y="1550.2" width="37.8" height="4.6" fill="#000" />
<rect x="2105.0" y="1550.2" width="37.8" height="4.6" fill="#000" />
<rect x="2169.0" y="1550.2" width="37.8" height="4.6" fill="#000" />
<rect x="2233.0" y="1550.2" width="37.8" height="4.6" fill="#000" />
<rect x="2297.0" y="1550.2" width="37.8" height="4.6" fill="#000" />
<rect x="2361.0" y="1550.2" width="24.0" height="4.6" fill="#000" />
</g>
<rect x="1796.0" y="1288.0" width="240.0" height="56.0" fill="#5ab0cb" />
<rect x="2112.4" y="1286.0" width="272.6" height="55.7" fill="#ec7f14" />
<rect x="1796.0" y="1787.0" width="272.4" height="56.3" fill="#5ab0cb" />
<rect x="2136.3" y="1792.0" width="248.7" height="53.5" fill="#ec7f14" />
<text x="1886.0" y="1329.0" font-family="Liberation Sans" font-size="37.44" font-weight="bold" font-style="italic" textLength="52.5" lengthAdjust="spacingAndGlyphs" fill="#fff" >CK</text>
<text x="2129.8" y="1325.3" font-family="Liberation Sans" font-size="35.36" font-weight="bold" font-style="italic" textLength="246.0" lengthAdjust="spacingAndGlyphs" fill="#fff" >P. adenopodaΔ</text>
<text x="1806.4" y="1830.8" font-family="Liberation Sans" font-size="35.36" font-weight="bold" font-style="italic" textLength="211.5" lengthAdjust="spacingAndGlyphs" fill="#fff" >P. lasiocarpa</text>
<text x="2149.5" y="1834.8" font-family="Liberation Sans" font-size="35.36" font-weight="bold" font-style="italic" textLength="223.0" lengthAdjust="spacingAndGlyphs" fill="#fff" >P. adenopoda</text>
<rect x="1826" y="1868.7" width="540.7" height="22" fill="url(#cb)" stroke="#111" stroke-width="1.2"/>
<line x1="1846.0" y1="1891.0" x2="1846.0" y2="1905.6" stroke="#000" stroke-width="1.3" />
<line x1="1869.7" y1="1891.0" x2="1869.7" y2="1898.4" stroke="#000" stroke-width="1.3" />
<line x1="1893.4" y1="1891.0" x2="1893.4" y2="1898.4" stroke="#000" stroke-width="1.3" />
<line x1="1917.1" y1="1891.0" x2="1917.1" y2="1898.4" stroke="#000" stroke-width="1.3" />
<line x1="1940.8" y1="1891.0" x2="1940.8" y2="1898.4" stroke="#000" stroke-width="1.3" />
<line x1="1964.5" y1="1891.0" x2="1964.5" y2="1905.6" stroke="#000" stroke-width="1.3" />
<line x1="1988.2" y1="1891.0" x2="1988.2" y2="1898.4" stroke="#000" stroke-width="1.3" />
<line x1="2011.9" y1="1891.0" x2="2011.9" y2="1898.4" stroke="#000" stroke-width="1.3" />
<line x1="2035.6" y1="1891.0" x2="2035.6" y2="1898.4" stroke="#000" stroke-width="1.3" />
<line x1="2059.3" y1="1891.0" x2="2059.3" y2="1898.4" stroke="#000" stroke-width="1.3" />
<line x1="2083.0" y1="1891.0" x2="2083.0" y2="1905.6" stroke="#000" stroke-width="1.3" />
<line x1="2106.7" y1="1891.0" x2="2106.7" y2="1898.4" stroke="#000" stroke-width="1.3" />
<line x1="2130.4" y1="1891.0" x2="2130.4" y2="1898.4" stroke="#000" stroke-width="1.3" />
<line x1="2154.1" y1="1891.0" x2="2154.1" y2="1898.4" stroke="#000" stroke-width="1.3" />
<line x1="2177.8" y1="1891.0" x2="2177.8" y2="1898.4" stroke="#000" stroke-width="1.3" />
<line x1="2201.5" y1="1891.0" x2="2201.5" y2="1905.6" stroke="#000" stroke-width="1.3" />
<line x1="2225.2" y1="1891.0" x2="2225.2" y2="1898.4" stroke="#000" stroke-width="1.3" />
<line x1="2248.9" y1="1891.0" x2="2248.9" y2="1898.4" stroke="#000" stroke-width="1.3" />
<line x1="2272.6" y1="1891.0" x2="2272.6" y2="1898.4" stroke="#000" stroke-width="1.3" />
<line x1="2296.3" y1="1891.0" x2="2296.3" y2="1898.4" stroke="#000" stroke-width="1.3" />
<line x1="2320.0" y1="1891.0" x2="2320.0" y2="1905.6" stroke="#000" stroke-width="1.3" />
<line x1="2343.7" y1="1891.0" x2="2343.7" y2="1898.4" stroke="#000" stroke-width="1.3" />
<text x="1736.0" y="1895.5" font-family="Liberation Sans" font-size="38.48" textLength="74.0" lengthAdjust="spacingAndGlyphs" fill="#000" stroke="#000" stroke-width="0.7">CPS</text>
<text x="1821.5" y="1933.0" font-family="Liberation Sans" font-size="32.24" font-weight="bold" textLength="52.0" lengthAdjust="spacingAndGlyphs" fill="#000" >500</text>
<text x="2036.5" y="1936.0" font-family="Liberation Sans" font-size="32.24" font-weight="bold" textLength="70.5" lengthAdjust="spacingAndGlyphs" fill="#000" >1500</text>
<text x="2280.8" y="1933.0" font-family="Liberation Sans" font-size="32.24" font-weight="bold" textLength="69.0" lengthAdjust="spacingAndGlyphs" fill="#000" >2500</text>
</g>

</svg>
</body></html>
